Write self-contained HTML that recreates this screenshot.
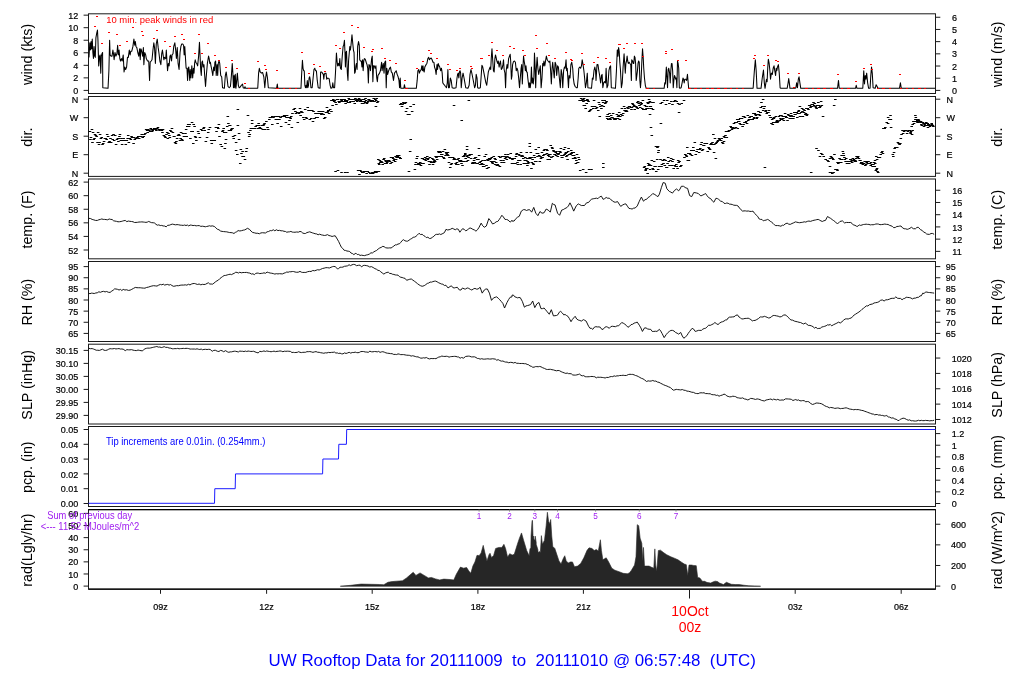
<!DOCTYPE html>
<html><head><meta charset="utf-8"><title>UW Rooftop Data</title>
<style>
html,body{margin:0;padding:0;background:#fff;}
svg{display:block;will-change:transform;}
text{font-family:"Liberation Sans", sans-serif;}
.tl{stroke:#000;stroke-width:0.2px;}
</style></head>
<body>
<svg width="1024" height="700" viewBox="0 0 1024 700">
<rect width="1024" height="700" fill="#fff"/>
<g font-family='"Liberation Sans", sans-serif'>
<rect x="88.5" y="13.8" width="847" height="79.7" fill="none" stroke="#1a1a1a" stroke-width="1"/>
<rect x="88.5" y="96.5" width="847" height="79.9" fill="none" stroke="#1a1a1a" stroke-width="1"/>
<rect x="88.5" y="179" width="847" height="79.8" fill="none" stroke="#1a1a1a" stroke-width="1"/>
<rect x="88.5" y="261.5" width="847" height="80" fill="none" stroke="#1a1a1a" stroke-width="1"/>
<rect x="88.5" y="344.2" width="847" height="79.8" fill="none" stroke="#1a1a1a" stroke-width="1"/>
<rect x="88.5" y="426.5" width="847" height="80" fill="none" stroke="#1a1a1a" stroke-width="1"/>
<rect x="88.5" y="509.6" width="847" height="79.6" fill="none" stroke="#1a1a1a" stroke-width="1"/>
<line x1="88.5" y1="509.6" x2="935.5" y2="509.6" stroke="#000" stroke-width="1.3"/>
<line x1="88.5" y1="589.2" x2="935.5" y2="589.2" stroke="#000" stroke-width="1.2"/>
<line x1="83.6" y1="90.4" x2="88.5" y2="90.4" stroke="#1a1a1a" stroke-width="1"/>
<text x="78.2" y="94" text-anchor="end" font-size="9" class="tl">0</text>
<line x1="83.6" y1="77.86" x2="88.5" y2="77.86" stroke="#1a1a1a" stroke-width="1"/>
<text x="78.2" y="81.46" text-anchor="end" font-size="9" class="tl">2</text>
<line x1="83.6" y1="65.32" x2="88.5" y2="65.32" stroke="#1a1a1a" stroke-width="1"/>
<text x="78.2" y="68.92" text-anchor="end" font-size="9" class="tl">4</text>
<line x1="83.6" y1="52.78" x2="88.5" y2="52.78" stroke="#1a1a1a" stroke-width="1"/>
<text x="78.2" y="56.38" text-anchor="end" font-size="9" class="tl">6</text>
<line x1="83.6" y1="40.24" x2="88.5" y2="40.24" stroke="#1a1a1a" stroke-width="1"/>
<text x="78.2" y="43.84" text-anchor="end" font-size="9" class="tl">8</text>
<line x1="83.6" y1="27.7" x2="88.5" y2="27.7" stroke="#1a1a1a" stroke-width="1"/>
<text x="78.2" y="31.3" text-anchor="end" font-size="9" class="tl">10</text>
<line x1="83.6" y1="15.16" x2="88.5" y2="15.16" stroke="#1a1a1a" stroke-width="1"/>
<text x="78.2" y="18.76" text-anchor="end" font-size="9" class="tl">12</text>
<line x1="935.5" y1="90.4" x2="940.3" y2="90.4" stroke="#1a1a1a" stroke-width="1"/>
<text x="952" y="94" font-size="9" class="tl">0</text>
<line x1="935.5" y1="78.21" x2="940.3" y2="78.21" stroke="#1a1a1a" stroke-width="1"/>
<text x="952" y="81.81" font-size="9" class="tl">1</text>
<line x1="935.5" y1="66.02" x2="940.3" y2="66.02" stroke="#1a1a1a" stroke-width="1"/>
<text x="952" y="69.62" font-size="9" class="tl">2</text>
<line x1="935.5" y1="53.83" x2="940.3" y2="53.83" stroke="#1a1a1a" stroke-width="1"/>
<text x="952" y="57.43" font-size="9" class="tl">3</text>
<line x1="935.5" y1="41.64" x2="940.3" y2="41.64" stroke="#1a1a1a" stroke-width="1"/>
<text x="952" y="45.24" font-size="9" class="tl">4</text>
<line x1="935.5" y1="29.45" x2="940.3" y2="29.45" stroke="#1a1a1a" stroke-width="1"/>
<text x="952" y="33.05" font-size="9" class="tl">5</text>
<line x1="935.5" y1="17.26" x2="940.3" y2="17.26" stroke="#1a1a1a" stroke-width="1"/>
<text x="952" y="20.86" font-size="9" class="tl">6</text>
<line x1="83.6" y1="99.2" x2="88.5" y2="99.2" stroke="#1a1a1a" stroke-width="1"/>
<text x="78.2" y="102.8" text-anchor="end" font-size="9" class="tl">N</text>
<line x1="83.6" y1="117.7" x2="88.5" y2="117.7" stroke="#1a1a1a" stroke-width="1"/>
<text x="78.2" y="121.3" text-anchor="end" font-size="9" class="tl">W</text>
<line x1="83.6" y1="136.2" x2="88.5" y2="136.2" stroke="#1a1a1a" stroke-width="1"/>
<text x="78.2" y="139.8" text-anchor="end" font-size="9" class="tl">S</text>
<line x1="83.6" y1="154.7" x2="88.5" y2="154.7" stroke="#1a1a1a" stroke-width="1"/>
<text x="78.2" y="158.3" text-anchor="end" font-size="9" class="tl">E</text>
<line x1="83.6" y1="173.2" x2="88.5" y2="173.2" stroke="#1a1a1a" stroke-width="1"/>
<text x="78.2" y="176.8" text-anchor="end" font-size="9" class="tl">N</text>
<line x1="935.5" y1="99.2" x2="940.3" y2="99.2" stroke="#1a1a1a" stroke-width="1"/>
<text x="946.5" y="102.8" font-size="9" class="tl">N</text>
<line x1="935.5" y1="117.7" x2="940.3" y2="117.7" stroke="#1a1a1a" stroke-width="1"/>
<text x="946.5" y="121.3" font-size="9" class="tl">W</text>
<line x1="935.5" y1="136.2" x2="940.3" y2="136.2" stroke="#1a1a1a" stroke-width="1"/>
<text x="946.5" y="139.8" font-size="9" class="tl">S</text>
<line x1="935.5" y1="154.7" x2="940.3" y2="154.7" stroke="#1a1a1a" stroke-width="1"/>
<text x="946.5" y="158.3" font-size="9" class="tl">E</text>
<line x1="935.5" y1="173.2" x2="940.3" y2="173.2" stroke="#1a1a1a" stroke-width="1"/>
<text x="946.5" y="176.8" font-size="9" class="tl">N</text>
<line x1="83.6" y1="250" x2="88.5" y2="250" stroke="#1a1a1a" stroke-width="1"/>
<text x="78.2" y="253.6" text-anchor="end" font-size="9" class="tl">52</text>
<line x1="83.6" y1="236.42" x2="88.5" y2="236.42" stroke="#1a1a1a" stroke-width="1"/>
<text x="78.2" y="240.02" text-anchor="end" font-size="9" class="tl">54</text>
<line x1="83.6" y1="222.84" x2="88.5" y2="222.84" stroke="#1a1a1a" stroke-width="1"/>
<text x="78.2" y="226.44" text-anchor="end" font-size="9" class="tl">56</text>
<line x1="83.6" y1="209.26" x2="88.5" y2="209.26" stroke="#1a1a1a" stroke-width="1"/>
<text x="78.2" y="212.86" text-anchor="end" font-size="9" class="tl">58</text>
<line x1="83.6" y1="195.68" x2="88.5" y2="195.68" stroke="#1a1a1a" stroke-width="1"/>
<text x="78.2" y="199.28" text-anchor="end" font-size="9" class="tl">60</text>
<line x1="83.6" y1="182.1" x2="88.5" y2="182.1" stroke="#1a1a1a" stroke-width="1"/>
<text x="78.2" y="185.7" text-anchor="end" font-size="9" class="tl">62</text>
<line x1="935.5" y1="251.36" x2="940.3" y2="251.36" stroke="#1a1a1a" stroke-width="1"/>
<text x="952.3" y="254.96" font-size="9" class="tl">11</text>
<line x1="935.5" y1="239.14" x2="940.3" y2="239.14" stroke="#1a1a1a" stroke-width="1"/>
<text x="952.3" y="242.74" font-size="9" class="tl">12</text>
<line x1="935.5" y1="226.91" x2="940.3" y2="226.91" stroke="#1a1a1a" stroke-width="1"/>
<text x="952.3" y="230.51" font-size="9" class="tl">13</text>
<line x1="935.5" y1="214.69" x2="940.3" y2="214.69" stroke="#1a1a1a" stroke-width="1"/>
<text x="952.3" y="218.29" font-size="9" class="tl">14</text>
<line x1="935.5" y1="202.47" x2="940.3" y2="202.47" stroke="#1a1a1a" stroke-width="1"/>
<text x="952.3" y="206.07" font-size="9" class="tl">15</text>
<line x1="935.5" y1="190.25" x2="940.3" y2="190.25" stroke="#1a1a1a" stroke-width="1"/>
<text x="952.3" y="193.85" font-size="9" class="tl">16</text>
<line x1="83.6" y1="333.41" x2="88.5" y2="333.41" stroke="#1a1a1a" stroke-width="1"/>
<text x="78.2" y="337.01" text-anchor="end" font-size="9" class="tl">65</text>
<line x1="83.6" y1="322.28" x2="88.5" y2="322.28" stroke="#1a1a1a" stroke-width="1"/>
<text x="78.2" y="325.88" text-anchor="end" font-size="9" class="tl">70</text>
<line x1="83.6" y1="311.14" x2="88.5" y2="311.14" stroke="#1a1a1a" stroke-width="1"/>
<text x="78.2" y="314.74" text-anchor="end" font-size="9" class="tl">75</text>
<line x1="83.6" y1="300" x2="88.5" y2="300" stroke="#1a1a1a" stroke-width="1"/>
<text x="78.2" y="303.61" text-anchor="end" font-size="9" class="tl">80</text>
<line x1="83.6" y1="288.87" x2="88.5" y2="288.87" stroke="#1a1a1a" stroke-width="1"/>
<text x="78.2" y="292.47" text-anchor="end" font-size="9" class="tl">85</text>
<line x1="83.6" y1="277.74" x2="88.5" y2="277.74" stroke="#1a1a1a" stroke-width="1"/>
<text x="78.2" y="281.34" text-anchor="end" font-size="9" class="tl">90</text>
<line x1="83.6" y1="266.6" x2="88.5" y2="266.6" stroke="#1a1a1a" stroke-width="1"/>
<text x="78.2" y="270.2" text-anchor="end" font-size="9" class="tl">95</text>
<line x1="935.5" y1="333.41" x2="940.3" y2="333.41" stroke="#1a1a1a" stroke-width="1"/>
<text x="945.8" y="337.01" font-size="9" class="tl">65</text>
<line x1="935.5" y1="322.28" x2="940.3" y2="322.28" stroke="#1a1a1a" stroke-width="1"/>
<text x="945.8" y="325.88" font-size="9" class="tl">70</text>
<line x1="935.5" y1="311.14" x2="940.3" y2="311.14" stroke="#1a1a1a" stroke-width="1"/>
<text x="945.8" y="314.74" font-size="9" class="tl">75</text>
<line x1="935.5" y1="300" x2="940.3" y2="300" stroke="#1a1a1a" stroke-width="1"/>
<text x="945.8" y="303.61" font-size="9" class="tl">80</text>
<line x1="935.5" y1="288.87" x2="940.3" y2="288.87" stroke="#1a1a1a" stroke-width="1"/>
<text x="945.8" y="292.47" font-size="9" class="tl">85</text>
<line x1="935.5" y1="277.74" x2="940.3" y2="277.74" stroke="#1a1a1a" stroke-width="1"/>
<text x="945.8" y="281.34" font-size="9" class="tl">90</text>
<line x1="935.5" y1="266.6" x2="940.3" y2="266.6" stroke="#1a1a1a" stroke-width="1"/>
<text x="945.8" y="270.2" font-size="9" class="tl">95</text>
<line x1="83.6" y1="415.4" x2="88.5" y2="415.4" stroke="#1a1a1a" stroke-width="1"/>
<text x="78.2" y="419" text-anchor="end" font-size="9" class="tl">29.90</text>
<line x1="83.6" y1="402.4" x2="88.5" y2="402.4" stroke="#1a1a1a" stroke-width="1"/>
<text x="78.2" y="406" text-anchor="end" font-size="9" class="tl">29.95</text>
<line x1="83.6" y1="389.4" x2="88.5" y2="389.4" stroke="#1a1a1a" stroke-width="1"/>
<text x="78.2" y="393" text-anchor="end" font-size="9" class="tl">30.00</text>
<line x1="83.6" y1="376.4" x2="88.5" y2="376.4" stroke="#1a1a1a" stroke-width="1"/>
<text x="78.2" y="380" text-anchor="end" font-size="9" class="tl">30.05</text>
<line x1="83.6" y1="363.4" x2="88.5" y2="363.4" stroke="#1a1a1a" stroke-width="1"/>
<text x="78.2" y="367" text-anchor="end" font-size="9" class="tl">30.10</text>
<line x1="83.6" y1="350.4" x2="88.5" y2="350.4" stroke="#1a1a1a" stroke-width="1"/>
<text x="78.2" y="354" text-anchor="end" font-size="9" class="tl">30.15</text>
<line x1="935.5" y1="419.47" x2="940.3" y2="419.47" stroke="#1a1a1a" stroke-width="1"/>
<text x="951.8" y="423.07" font-size="9" class="tl">1012</text>
<line x1="935.5" y1="404.12" x2="940.3" y2="404.12" stroke="#1a1a1a" stroke-width="1"/>
<text x="951.8" y="407.72" font-size="9" class="tl">1014</text>
<line x1="935.5" y1="388.76" x2="940.3" y2="388.76" stroke="#1a1a1a" stroke-width="1"/>
<text x="951.8" y="392.36" font-size="9" class="tl">1016</text>
<line x1="935.5" y1="373.41" x2="940.3" y2="373.41" stroke="#1a1a1a" stroke-width="1"/>
<text x="951.8" y="377.01" font-size="9" class="tl">1018</text>
<line x1="935.5" y1="358.05" x2="940.3" y2="358.05" stroke="#1a1a1a" stroke-width="1"/>
<text x="951.8" y="361.65" font-size="9" class="tl">1020</text>
<line x1="83.6" y1="503.5" x2="88.5" y2="503.5" stroke="#1a1a1a" stroke-width="1"/>
<text x="78.2" y="507.1" text-anchor="end" font-size="9" class="tl">0.00</text>
<line x1="83.6" y1="488.7" x2="88.5" y2="488.7" stroke="#1a1a1a" stroke-width="1"/>
<text x="78.2" y="492.3" text-anchor="end" font-size="9" class="tl">0.01</text>
<line x1="83.6" y1="473.9" x2="88.5" y2="473.9" stroke="#1a1a1a" stroke-width="1"/>
<text x="78.2" y="477.5" text-anchor="end" font-size="9" class="tl">0.02</text>
<line x1="83.6" y1="459.1" x2="88.5" y2="459.1" stroke="#1a1a1a" stroke-width="1"/>
<text x="78.2" y="462.7" text-anchor="end" font-size="9" class="tl">0.03</text>
<line x1="83.6" y1="444.3" x2="88.5" y2="444.3" stroke="#1a1a1a" stroke-width="1"/>
<text x="78.2" y="447.9" text-anchor="end" font-size="9" class="tl">0.04</text>
<line x1="83.6" y1="429.5" x2="88.5" y2="429.5" stroke="#1a1a1a" stroke-width="1"/>
<text x="78.2" y="433.1" text-anchor="end" font-size="9" class="tl">0.05</text>
<line x1="935.5" y1="503.5" x2="940.3" y2="503.5" stroke="#1a1a1a" stroke-width="1"/>
<text x="951.8" y="507.1" font-size="9" class="tl">0</text>
<line x1="935.5" y1="491.85" x2="940.3" y2="491.85" stroke="#1a1a1a" stroke-width="1"/>
<text x="951.8" y="495.45" font-size="9" class="tl">0.2</text>
<line x1="935.5" y1="480.19" x2="940.3" y2="480.19" stroke="#1a1a1a" stroke-width="1"/>
<text x="951.8" y="483.79" font-size="9" class="tl">0.4</text>
<line x1="935.5" y1="468.54" x2="940.3" y2="468.54" stroke="#1a1a1a" stroke-width="1"/>
<text x="951.8" y="472.14" font-size="9" class="tl">0.6</text>
<line x1="935.5" y1="456.89" x2="940.3" y2="456.89" stroke="#1a1a1a" stroke-width="1"/>
<text x="951.8" y="460.49" font-size="9" class="tl">0.8</text>
<line x1="935.5" y1="445.23" x2="940.3" y2="445.23" stroke="#1a1a1a" stroke-width="1"/>
<text x="951.8" y="448.83" font-size="9" class="tl">1</text>
<line x1="935.5" y1="433.58" x2="940.3" y2="433.58" stroke="#1a1a1a" stroke-width="1"/>
<text x="951.8" y="437.18" font-size="9" class="tl">1.2</text>
<line x1="83.6" y1="586.1" x2="88.5" y2="586.1" stroke="#1a1a1a" stroke-width="1"/>
<text x="78.2" y="589.7" text-anchor="end" font-size="9" class="tl">0</text>
<line x1="83.6" y1="573.98" x2="88.5" y2="573.98" stroke="#1a1a1a" stroke-width="1"/>
<text x="78.2" y="577.58" text-anchor="end" font-size="9" class="tl">10</text>
<line x1="83.6" y1="561.87" x2="88.5" y2="561.87" stroke="#1a1a1a" stroke-width="1"/>
<text x="78.2" y="565.47" text-anchor="end" font-size="9" class="tl">20</text>
<line x1="83.6" y1="549.75" x2="88.5" y2="549.75" stroke="#1a1a1a" stroke-width="1"/>
<text x="78.2" y="553.35" text-anchor="end" font-size="9" class="tl">30</text>
<line x1="83.6" y1="537.63" x2="88.5" y2="537.63" stroke="#1a1a1a" stroke-width="1"/>
<text x="78.2" y="541.23" text-anchor="end" font-size="9" class="tl">40</text>
<line x1="83.6" y1="525.51" x2="88.5" y2="525.51" stroke="#1a1a1a" stroke-width="1"/>
<text x="78.2" y="529.12" text-anchor="end" font-size="9" class="tl">50</text>
<line x1="83.6" y1="513.4" x2="88.5" y2="513.4" stroke="#1a1a1a" stroke-width="1"/>
<text x="78.2" y="517" text-anchor="end" font-size="9" class="tl">60</text>
<line x1="935.5" y1="586.1" x2="940.3" y2="586.1" stroke="#1a1a1a" stroke-width="1"/>
<text x="951.0" y="589.7" font-size="9" class="tl">0</text>
<line x1="935.5" y1="565.48" x2="940.3" y2="565.48" stroke="#1a1a1a" stroke-width="1"/>
<text x="951.0" y="569.08" font-size="9" class="tl">200</text>
<line x1="935.5" y1="544.86" x2="940.3" y2="544.86" stroke="#1a1a1a" stroke-width="1"/>
<text x="951.0" y="548.46" font-size="9" class="tl">400</text>
<line x1="935.5" y1="524.24" x2="940.3" y2="524.24" stroke="#1a1a1a" stroke-width="1"/>
<text x="951.0" y="527.84" font-size="9" class="tl">600</text>
<text transform="translate(32.4,54.35) rotate(-90)" text-anchor="middle" font-size="14.3">wind (kts)</text>
<text transform="translate(1002.1,54.35) rotate(-90)" text-anchor="middle" font-size="14.3">wind (m/s)</text>
<text transform="translate(32.4,137.15) rotate(-90)" text-anchor="middle" font-size="14.3">dir.</text>
<text transform="translate(1002.1,137.15) rotate(-90)" text-anchor="middle" font-size="14.3">dir.</text>
<text transform="translate(32.4,219.6) rotate(-90)" text-anchor="middle" font-size="14.3">temp. (F)</text>
<text transform="translate(1002.1,219.6) rotate(-90)" text-anchor="middle" font-size="14.3">temp. (C)</text>
<text transform="translate(32.4,302.2) rotate(-90)" text-anchor="middle" font-size="14.3">RH (%)</text>
<text transform="translate(1002.1,302.2) rotate(-90)" text-anchor="middle" font-size="14.3">RH (%)</text>
<text transform="translate(32.4,384.8) rotate(-90)" text-anchor="middle" font-size="14.3">SLP (inHg)</text>
<text transform="translate(1002.1,384.8) rotate(-90)" text-anchor="middle" font-size="14.3">SLP (hPa)</text>
<text transform="translate(32.4,467.2) rotate(-90)" text-anchor="middle" font-size="14.3">pcp. (in)</text>
<text transform="translate(1002.1,467.2) rotate(-90)" text-anchor="middle" font-size="14.3">pcp. (mm)</text>
<text transform="translate(32.4,550.1) rotate(-90)" text-anchor="middle" font-size="14.3">rad(Lgly/hr)</text>
<text transform="translate(1002.1,550.1) rotate(-90)" text-anchor="middle" font-size="14.3">rad (W/m^2)</text>
<line x1="160.5" y1="589.2" x2="160.5" y2="593.8" stroke="#1a1a1a" stroke-width="1"/>
<text x="160.5" y="610.2" text-anchor="middle" font-size="9" class="tl">09z</text>
<line x1="266.6" y1="589.2" x2="266.6" y2="593.8" stroke="#1a1a1a" stroke-width="1"/>
<text x="266.6" y="610.2" text-anchor="middle" font-size="9" class="tl">12z</text>
<line x1="372.2" y1="589.2" x2="372.2" y2="593.8" stroke="#1a1a1a" stroke-width="1"/>
<text x="372.2" y="610.2" text-anchor="middle" font-size="9" class="tl">15z</text>
<line x1="477.9" y1="589.2" x2="477.9" y2="593.8" stroke="#1a1a1a" stroke-width="1"/>
<text x="477.9" y="610.2" text-anchor="middle" font-size="9" class="tl">18z</text>
<line x1="583.4" y1="589.2" x2="583.4" y2="593.8" stroke="#1a1a1a" stroke-width="1"/>
<text x="583.4" y="610.2" text-anchor="middle" font-size="9" class="tl">21z</text>
<line x1="795.2" y1="589.2" x2="795.2" y2="593.8" stroke="#1a1a1a" stroke-width="1"/>
<text x="795.2" y="610.2" text-anchor="middle" font-size="9" class="tl">03z</text>
<line x1="901.2" y1="589.2" x2="901.2" y2="593.8" stroke="#1a1a1a" stroke-width="1"/>
<text x="901.2" y="610.2" text-anchor="middle" font-size="9" class="tl">06z</text>
<line x1="689.5" y1="589.2" x2="689.5" y2="598.5" stroke="#1a1a1a" stroke-width="1"/>
<text x="690" y="616.3" text-anchor="middle" font-size="14" fill="#ff0000">10Oct</text>
<text x="690" y="632.3" text-anchor="middle" font-size="14" fill="#ff0000">00z</text>
<text x="268.6" y="665.8" font-size="16.9" fill="#0000ff" xml:space="preserve">UW Rooftop Data for 20111009  to  20111010 @ 06:57:48  (UTC)</text>
<polyline points="88.97,57.36 89.82,42.79 90.43,50.07 91.04,41.57 91.64,48.86 92.25,39.14 92.86,52.5 93.46,58.57 94.07,46.43 94.68,56.14 95.29,57.36 95.89,37.93 96.74,33.07 97.47,30.04 97.96,40.36 98.69,65.86 99.54,56.14 100.14,54.93 100.75,73.15 101.36,56.14 101.96,53.72 102.57,52.5 102.81,87.72 108.04,88.32 108.89,70.72 109.62,40.36 110.1,54.93 111.07,56.14 112.04,56.14 112.89,50.07 113.5,53.72 114.11,59.79 114.96,52.5 115.93,56.14 116.9,53.72 117.63,45.22 118.36,54.93 119.09,50.07 119.82,58.57 120.54,61 121.39,58.57 122.24,61 123.22,54.93 124.07,71.93 124.79,67.07 125.64,69.5 126.62,67.07 127.47,57.36 128.32,57.36 129.29,50.07 130.14,54.93 130.74,51.29 131.72,51.29 132.93,46.43 133.9,39.14 134.75,45.22 135.36,41.57 135.97,46.43 136.82,47.64 137.79,52.5 138.76,56.14 139.61,48.86 140.22,59.79 140.82,48.86 141.43,50.07 142.64,56.14 143.37,47.64 143.86,64.64 144.71,52.5 145.68,54.93 146.29,58.57 147.5,61 148.72,61 149.57,80.43 150.17,62.22 151.15,61 152,59.79 152.97,50.07 153.82,42.79 154.55,47.64 155.4,63.43 156.25,44 157.22,39.14 158.19,47.64 159.04,53.72 159.89,61 160.86,64.64 161.71,53.72 162.44,50.07 163.29,56.14 163.9,59.79 164.5,57.36 165.72,58.57 166.32,50.07 166.93,61 167.54,70.72 168.39,63.43 169.12,65.86 169.97,56.14 170.57,54.93 171.55,61 172.03,54.93 173,53.72 173.73,46.43 174.82,42.79 175.67,50.07 176.4,58.57 177.25,47.64 178.1,63.43 179.07,69.5 180.05,52.5 180.9,46.43 181.75,44 182.72,44 183.57,45.22 184.17,54.93 184.78,46.43 185.51,58.57 186.12,68.29 186.97,68.29 187.57,80.43 188.18,68.29 188.79,67.07 189.76,80.43 190.25,69.5 190.98,78 191.83,65.86 192.68,78 193.4,68.29 194,73.15 194.61,63.43 195.21,59.79 195.82,62.22 196.67,63.43 197.64,65.86 198.61,56.14 199.46,42.18 200.07,56.14 200.68,69.5 201.29,75.57 201.89,62.22 202.5,61 203.11,67.07 203.96,64.64 204.69,75.57 205.54,86.5 206.14,78 207.36,63.43 207.96,59.79 208.57,56.14 209.18,58.57 209.79,63.43 210.39,62.22 211,65.86 211.97,70.72 212.82,75.57 213.67,67.07 214.4,70.72 214.89,62.22 215.62,61 216.22,75.57 217.07,64.64 217.68,75.57 218.29,63.43 219.02,61 219.74,63.43 220.72,75.57 221.69,76.79 222.54,87.72 224.36,88.32 225.33,75.57 226.18,71.93 227.03,78 228,86.5 229.22,87.72 230.43,86.5 231.4,75.57 232.25,63.43 232.86,73.15 233.47,87.72 234.07,75.57 234.68,87.72 235.29,74.36 235.89,88.32 236.5,82.86 237.35,73.15 238.32,85.29 239.17,87.72 240.14,87.11 241.36,85.29 242.57,84.07 243.18,87.72 244.39,88.32 245,86.75 245.61,88.32 257.75,88.32 258.6,73.15 259.33,68.29 260.18,71.93 261.4,73.15 262.61,72.54 263.82,76.79 264.8,87.72 265.65,78 266.5,71.93 267.47,78 268.32,87.72 276.57,88.32 277.3,84.07 277.79,88.32 300.01,88.32 300.97,88.32 301.82,70.72 302.43,60.39 303.04,68.29 303.64,70.72 304.25,70.72 304.86,85.29 305.46,87.72 306.07,85.29 306.68,87.72 307.29,80.43 307.89,87.72 308.5,85.29 309.11,78 309.71,76.79 310.32,80.43 310.93,87.72 312.14,87.72 313.11,78 313.96,69.5 314.81,68.29 315.54,70.72 316.39,70.72 317.24,80.43 318.21,87.72 320.04,88.32 320.64,71.93 321.62,71.93 322.47,73.15 323.32,74.36 323.8,79.22 324.29,74.36 325.14,73.15 325.99,73.15 326.72,79.22 327.69,78 329.14,78.61 330.12,85.29 330.97,88.32 332.18,87.72 332.79,82.86 333.52,87.72 334.61,87.72 335.46,73.15 336.43,53.11 337.04,61 337.64,65.86 338.37,63.43 339.1,65.86 339.83,58.57 340.44,68.29 341.29,69.5 342.26,56.14 343.11,46.43 343.72,45.22 344.44,40.36 344.93,51.29 345.42,67.07 345.9,52.5 346.51,51.29 347.36,73.15 347.97,80.43 348.57,61 349.18,53.72 349.79,46.43 350.39,50.07 351,45.22 351.97,34.89 352.82,44 353.43,50.07 354.04,52.5 354.64,73.15 355.25,71.93 355.86,65.86 356.47,63.43 357.07,69.5 357.68,46.43 358.53,41.57 359.26,45.22 359.74,59.79 360.47,61 361.32,61 361.93,67.07 362.54,59.79 363.15,70.72 363.75,61 364.36,58.57 365.21,59.18 366.18,62.22 367.03,64.64 367.76,68.29 368.37,82.86 368.97,64.64 369.82,65.86 370.43,70.72 371.04,64.64 371.65,58.57 372.25,56.14 372.86,81.65 373.47,65.86 374.32,65.86 375.05,68.29 375.9,65.86 376.75,78 377.35,81.65 377.96,75.57 378.69,74.36 379.54,73.15 380.39,70.72 381.12,65.86 381.6,62.22 382.09,70.72 382.57,67.07 383.3,63.43 384.03,73.15 384.76,62.22 385.61,61 386.22,87.72 386.82,68.29 387.67,74.36 388.65,70.72 389.62,68.29 390.47,67.07 391.32,71.93 392.29,73.15 393.5,80.43 394.47,73.15 395.32,71.93 396.17,70.72 397.15,74.36 398.12,76.79 398.97,80.43 399.57,87.72 400.18,78 400.79,88.32 403.83,88.32 404.43,84.68 405.16,88.32 405.65,88.32 406,88.32 416.32,88.32 417.17,80.43 417.9,70.72 418.75,69.5 419.36,73.15 420.33,70.72 421.18,69.5 421.79,65.86 422.39,70.72 423,65.86 423.61,70.72 424.21,71.93 424.82,67.07 426.04,64.64 426.89,63.43 427.86,58.57 428.71,57.36 429.44,59.79 430.29,58.57 431.14,57.97 432.11,59.79 432.96,62.22 433.93,62.22 434.54,67.07 435.39,69.5 436.12,74.36 436.97,64.64 437.57,69.5 438.18,63.43 439.03,65.86 439.76,67.07 440.61,70.72 441.46,68.29 442.19,73.15 442.79,82.86 443.64,84.07 444.62,85.29 445.47,86.5 446.44,87.72 447.29,82.86 447.89,69.5 448.5,87.72 449.35,87.72 450.32,78 451.17,80.43 452.14,87.72 453.97,88.32 456.03,87.72 457,78 457.61,74.36 458.22,73.15 458.82,78 459.43,71.93 460.04,70.72 460.64,73.15 461.25,87.72 462.1,78 463.07,73.15 464.04,78 464.89,82.86 465.74,87.72 467.93,88.32 469.15,85.29 470,74.36 470.97,69.5 471.82,73.15 472.79,78 473.76,82.86 474.61,87.72 475.46,85.29 476.19,74.36 477.04,78 477.65,87.72 478.86,88.32 480.32,87.72 481.05,78 481.9,65.25 482.75,67.07 483.72,71.93 484.69,76.79 485.9,82.86 486.75,85.29 487.6,78 488.33,71.93 489.18,69.5 490.03,67.07 490.76,69.5 491.25,58.57 491.97,48.86 492.7,59.79 493.43,70.72 494.16,71.93 494.89,58.57 495.5,54.93 496.1,57.36 496.83,61 497.68,63.43 498.29,61 499.14,67.07 499.75,63.43 500.47,61 501.32,69.5 502.17,68.29 502.9,64.64 503.51,59.79 504.12,69.5 504.97,73.15 505.57,87.72 506.18,70.72 507.03,64.64 507.76,68.29 508.61,58.57 509.46,56.14 510.19,54.32 510.68,61 511.4,79.22 512,75.57 512.01,73.15 512.61,64.64 513.46,61.61 514.43,61 515.4,62.22 516.25,70.72 517.1,68.29 517.83,70.72 518.68,78 519.53,87.72 520.26,78 521.11,68.29 521.71,64.64 522.32,84.07 522.93,68.29 523.54,56.14 524.14,61 524.75,64.64 525.36,70.72 525.96,65.86 526.57,71.93 527.18,71.93 527.79,78 528.39,82.86 529,87.72 529.61,82.86 530.21,87.72 530.82,82.86 531.43,67.07 532.04,82.86 532.64,78 533.25,84.07 533.86,78 534.47,53.11 535.07,65.86 535.68,87.72 536.29,69.5 537.14,57.36 537.87,68.29 538.72,74.36 539.57,69.5 540.29,65.86 541.14,87.72 541.99,78 542.72,63.43 543.33,65.86 543.94,61 544.79,65.86 545.52,61 546.37,56.14 547.22,59.79 548.07,61 549.04,62.22 549.89,61 550.62,70.72 551.34,84.07 552.07,68.29 552.68,62.22 553.53,70.72 554.26,78 555.11,62.22 555.96,64.64 556.69,75.57 557.54,65.86 558.39,67.07 559.36,78 560.33,87.72 561.18,69.5 562.03,74.36 562.76,87.72 563.61,70.72 564.46,67.07 565.19,68.29 566.04,59.79 566.64,70.72 567.25,68.29 567.86,78 568.47,87.72 569.07,75.57 570.04,78 570.89,64.64 571.74,62.22 572.72,68.29 573.32,78 574.17,84.07 575.15,86.5 576.36,87.72 577.33,87.72 578.18,78 578.79,68.29 579.76,67.07 580.61,68.29 581.46,65.86 582.19,59.79 583.04,64.64 583.89,70.72 584.62,78 585.47,87.72 586.32,82.86 587.29,73.15 587.9,87.72 591.54,88.32 592.39,78 593.12,79.22 593.97,70.72 594.82,67.07 595.55,70.72 596.03,80.43 597,64.64 597.97,64.64 598.82,70.72 599.67,75.57 600.65,82.86 601.5,75.57 602.1,74.36 602.83,87.72 603.68,82.86 604.53,81.65 605.5,82.86 606.11,68.29 606.96,87.72 607.93,85.29 608.9,70.72 609.75,67.07 610.6,65.86 611.33,87.72 615.46,88.32 616.43,70.72 617.28,50.07 618,50.07 618.01,56.14 618.61,47.64 619.21,51.29 619.82,62.22 620.43,69.5 621.4,87.72 622.25,82.86 623.1,67.07 624.07,53.72 624.68,63.43 625.29,73.15 625.89,63.43 626.5,61 627.11,56.14 627.71,61 628.32,63.43 629.17,62.22 629.9,63.43 630.75,64.64 631.36,80.43 631.72,59.79 632.57,61 633.18,63.43 633.79,63.43 634.39,56.14 635,57.36 635.61,63.43 636.21,80.43 636.82,75.57 637.43,70.72 638.04,63.43 638.64,61 639.25,62.22 639.86,80.43 640.47,87.72 641.07,80.43 641.92,59.79 642.53,48.86 643.26,58.57 643.74,68.29 644.47,78 645.32,85.29 646.17,88.32 664.14,88.32 664.75,82.86 665.36,84.07 666.33,67.07 666.94,78 667.54,87.72 668.15,69.5 668.76,68.29 669.61,73.15 670.22,82.86 670.82,70.72 671.43,63.43 672.04,63.43 672.64,70.72 673.25,87.72 673.86,80.43 674.47,75.57 675.07,76.79 675.68,79.22 676.29,78 676.89,87.72 677.5,61 678.11,63.43 678.72,68.29 679.32,87.72 679.93,88.32 681.15,87.72 682.12,82.86 682.97,78 683.57,79.22 684.18,82.86 684.79,79.22 685.76,79.22 686.61,80.43 687.46,74.36 688.19,82.86 688.67,88.32 724,88.32 724.01,88.32 753.14,88.32 754.36,70.72 755.33,59.79 756.18,70.72 757.03,88.32 761.04,88.32 762.25,78 763.47,70.11 764.32,82.86 765.04,88.32 765.89,82.86 766.5,79.22 767.11,81.65 767.72,68.29 768.32,59.18 769.17,63.43 769.9,70.72 770.51,79.22 771.36,73.15 772.33,74.36 773.18,68.29 774.03,65.86 774.76,70.72 775.61,75.57 776.22,68.29 776.82,70.72 777.43,67.07 778.4,64.64 779.25,73.15 780.1,87.72 780.83,88.32 787.15,88.32 788.12,82.86 788.72,78.61 789.33,82.86 789.94,88.32 795.04,88.32 795.89,87.72 796.62,82.86 797.47,87.72 798.32,79.22 799.05,76.79 799.9,82.86 800.75,88.32 830,88.32 830.01,88.32 837.53,88.32 838.5,80.43 839.23,88.32 855.5,88.32 856.23,85.29 856.96,88.32 862.79,88.32 863.76,70.72 864.49,84.07 865.22,75.57 865.94,79.22 866.67,73.15 867.64,82.86 868.62,88.32 870.07,88.32 870.8,75.57 871.53,67.07 872.26,73.15 873.11,87.72 875.17,88.32 876.14,84.68 877.12,86.5 877.97,88.32 899.46,88.32 900.43,82.86 901.28,88.32 935,88.32" fill="none" stroke="#000" stroke-width="1.05" stroke-linejoin="round" />
<rect x="95.81" y="16" width="2.6" height="1" fill="#ff0000" shape-rendering="crispEdges"/>
<rect x="93.62" y="26" width="2.6" height="1" fill="#ff0000" shape-rendering="crispEdges"/>
<rect x="100.66" y="43" width="2.6" height="1" fill="#ff0000" shape-rendering="crispEdges"/>
<rect x="107.71" y="32" width="2.6" height="1" fill="#ff0000" shape-rendering="crispEdges"/>
<rect x="115.6" y="34" width="2.6" height="1" fill="#ff0000" shape-rendering="crispEdges"/>
<rect x="118.52" y="45" width="2.6" height="1" fill="#ff0000" shape-rendering="crispEdges"/>
<rect x="125.56" y="41" width="2.6" height="1" fill="#ff0000" shape-rendering="crispEdges"/>
<rect x="131.63" y="27" width="2.6" height="1" fill="#ff0000" shape-rendering="crispEdges"/>
<rect x="140.74" y="31" width="2.6" height="1" fill="#ff0000" shape-rendering="crispEdges"/>
<rect x="141.71" y="35" width="2.6" height="1" fill="#ff0000" shape-rendering="crispEdges"/>
<rect x="152.88" y="38" width="2.6" height="1" fill="#ff0000" shape-rendering="crispEdges"/>
<rect x="155.67" y="30" width="2.6" height="1" fill="#ff0000" shape-rendering="crispEdges"/>
<rect x="163.57" y="41" width="2.6" height="1" fill="#ff0000" shape-rendering="crispEdges"/>
<rect x="168.79" y="46" width="2.6" height="1" fill="#ff0000" shape-rendering="crispEdges"/>
<rect x="173.65" y="36" width="2.6" height="1" fill="#ff0000" shape-rendering="crispEdges"/>
<rect x="180.81" y="34" width="2.6" height="1" fill="#ff0000" shape-rendering="crispEdges"/>
<rect x="182.75" y="39" width="2.6" height="1" fill="#ff0000" shape-rendering="crispEdges"/>
<rect x="197.8" y="34" width="2.6" height="1" fill="#ff0000" shape-rendering="crispEdges"/>
<rect x="193.67" y="53" width="2.6" height="1" fill="#ff0000" shape-rendering="crispEdges"/>
<rect x="200.71" y="53" width="2.6" height="1" fill="#ff0000" shape-rendering="crispEdges"/>
<rect x="206.79" y="43" width="2.6" height="1" fill="#ff0000" shape-rendering="crispEdges"/>
<rect x="213.59" y="55" width="2.6" height="1" fill="#ff0000" shape-rendering="crispEdges"/>
<rect x="217.72" y="60" width="2.6" height="1" fill="#ff0000" shape-rendering="crispEdges"/>
<rect x="224.64" y="67" width="2.6" height="1" fill="#ff0000" shape-rendering="crispEdges"/>
<rect x="230.71" y="60" width="2.6" height="1" fill="#ff0000" shape-rendering="crispEdges"/>
<rect x="235.69" y="68" width="2.6" height="1" fill="#ff0000" shape-rendering="crispEdges"/>
<rect x="243.7" y="83" width="2.6" height="1" fill="#ff0000" shape-rendering="crispEdges"/>
<rect x="247.59" y="88" width="2.6" height="1" fill="#ff0000" shape-rendering="crispEdges"/>
<rect x="256.7" y="61" width="2.6" height="1" fill="#ff0000" shape-rendering="crispEdges"/>
<rect x="263.74" y="65" width="2.6" height="1" fill="#ff0000" shape-rendering="crispEdges"/>
<rect x="264.59" y="69" width="2.6" height="1" fill="#ff0000" shape-rendering="crispEdges"/>
<rect x="275.76" y="70" width="2.6" height="1" fill="#ff0000" shape-rendering="crispEdges"/>
<rect x="276.49" y="88" width="2.6" height="1" fill="#ff0000" shape-rendering="crispEdges"/>
<rect x="282.56" y="88" width="2.6" height="1" fill="#ff0000" shape-rendering="crispEdges"/>
<rect x="288.63" y="88" width="2.6" height="1" fill="#ff0000" shape-rendering="crispEdges"/>
<rect x="294.7" y="88" width="2.6" height="1" fill="#ff0000" shape-rendering="crispEdges"/>
<rect x="300.76" y="52" width="2.6" height="1" fill="#ff0000" shape-rendering="crispEdges"/>
<rect x="307.69" y="73" width="2.6" height="1" fill="#ff0000" shape-rendering="crispEdges"/>
<rect x="312.79" y="64" width="2.6" height="1" fill="#ff0000" shape-rendering="crispEdges"/>
<rect x="318.61" y="66" width="2.6" height="1" fill="#ff0000" shape-rendering="crispEdges"/>
<rect x="323.72" y="71" width="2.6" height="1" fill="#ff0000" shape-rendering="crispEdges"/>
<rect x="334.64" y="45" width="2.6" height="1" fill="#ff0000" shape-rendering="crispEdges"/>
<rect x="338.77" y="48" width="2.6" height="1" fill="#ff0000" shape-rendering="crispEdges"/>
<rect x="342.66" y="32" width="2.6" height="1" fill="#ff0000" shape-rendering="crispEdges"/>
<rect x="350.67" y="25" width="2.6" height="1" fill="#ff0000" shape-rendering="crispEdges"/>
<rect x="356.74" y="27" width="2.6" height="1" fill="#ff0000" shape-rendering="crispEdges"/>
<rect x="362.7" y="47" width="2.6" height="1" fill="#ff0000" shape-rendering="crispEdges"/>
<rect x="370.59" y="51" width="2.6" height="1" fill="#ff0000" shape-rendering="crispEdges"/>
<rect x="371.68" y="49" width="2.6" height="1" fill="#ff0000" shape-rendering="crispEdges"/>
<rect x="380.79" y="48" width="2.6" height="1" fill="#ff0000" shape-rendering="crispEdges"/>
<rect x="383.7" y="58" width="2.6" height="1" fill="#ff0000" shape-rendering="crispEdges"/>
<rect x="388.68" y="60" width="2.6" height="1" fill="#ff0000" shape-rendering="crispEdges"/>
<rect x="394.63" y="63" width="2.6" height="1" fill="#ff0000" shape-rendering="crispEdges"/>
<rect x="403.62" y="80" width="2.6" height="1" fill="#ff0000" shape-rendering="crispEdges"/>
<rect x="405.19" y="88" width="2.6" height="1" fill="#ff0000" shape-rendering="crispEdges"/>
<rect x="415.63" y="68" width="2.6" height="1" fill="#ff0000" shape-rendering="crispEdges"/>
<rect x="421.7" y="61" width="2.6" height="1" fill="#ff0000" shape-rendering="crispEdges"/>
<rect x="427.65" y="50" width="2.6" height="1" fill="#ff0000" shape-rendering="crispEdges"/>
<rect x="429.72" y="53" width="2.6" height="1" fill="#ff0000" shape-rendering="crispEdges"/>
<rect x="435.67" y="58" width="2.6" height="1" fill="#ff0000" shape-rendering="crispEdges"/>
<rect x="446.59" y="64" width="2.6" height="1" fill="#ff0000" shape-rendering="crispEdges"/>
<rect x="448.66" y="69" width="2.6" height="1" fill="#ff0000" shape-rendering="crispEdges"/>
<rect x="455.7" y="70" width="2.6" height="1" fill="#ff0000" shape-rendering="crispEdges"/>
<rect x="458.62" y="68" width="2.6" height="1" fill="#ff0000" shape-rendering="crispEdges"/>
<rect x="469.67" y="66" width="2.6" height="1" fill="#ff0000" shape-rendering="crispEdges"/>
<rect x="470.64" y="68" width="2.6" height="1" fill="#ff0000" shape-rendering="crispEdges"/>
<rect x="480.47" y="58" width="2.6" height="1" fill="#ff0000" shape-rendering="crispEdges"/>
<rect x="487.76" y="55" width="2.6" height="1" fill="#ff0000" shape-rendering="crispEdges"/>
<rect x="490.67" y="42" width="2.6" height="1" fill="#ff0000" shape-rendering="crispEdges"/>
<rect x="495.53" y="50" width="2.6" height="1" fill="#ff0000" shape-rendering="crispEdges"/>
<rect x="501.6" y="55" width="2.6" height="1" fill="#ff0000" shape-rendering="crispEdges"/>
<rect x="508.65" y="46" width="2.6" height="1" fill="#ff0000" shape-rendering="crispEdges"/>
<rect x="512.64" y="48" width="2.6" height="1" fill="#ff0000" shape-rendering="crispEdges"/>
<rect x="521.63" y="50" width="2.6" height="1" fill="#ff0000" shape-rendering="crispEdges"/>
<rect x="523.57" y="55" width="2.6" height="1" fill="#ff0000" shape-rendering="crispEdges"/>
<rect x="534.62" y="35" width="2.6" height="1" fill="#ff0000" shape-rendering="crispEdges"/>
<rect x="535.59" y="48" width="2.6" height="1" fill="#ff0000" shape-rendering="crispEdges"/>
<rect x="545.67" y="43" width="2.6" height="1" fill="#ff0000" shape-rendering="crispEdges"/>
<rect x="547.74" y="55" width="2.6" height="1" fill="#ff0000" shape-rendering="crispEdges"/>
<rect x="553.69" y="58" width="2.6" height="1" fill="#ff0000" shape-rendering="crispEdges"/>
<rect x="564.74" y="52" width="2.6" height="1" fill="#ff0000" shape-rendering="crispEdges"/>
<rect x="569.59" y="59" width="2.6" height="1" fill="#ff0000" shape-rendering="crispEdges"/>
<rect x="570.69" y="60" width="2.6" height="1" fill="#ff0000" shape-rendering="crispEdges"/>
<rect x="580.65" y="53" width="2.6" height="1" fill="#ff0000" shape-rendering="crispEdges"/>
<rect x="582.83" y="64" width="2.6" height="1" fill="#ff0000" shape-rendering="crispEdges"/>
<rect x="592.67" y="62" width="2.6" height="1" fill="#ff0000" shape-rendering="crispEdges"/>
<rect x="596.67" y="57" width="2.6" height="1" fill="#ff0000" shape-rendering="crispEdges"/>
<rect x="604.69" y="58" width="2.6" height="1" fill="#ff0000" shape-rendering="crispEdges"/>
<rect x="608.57" y="62" width="2.6" height="1" fill="#ff0000" shape-rendering="crispEdges"/>
<rect x="617.91" y="44" width="2.6" height="1" fill="#ff0000" shape-rendering="crispEdges"/>
<rect x="622.77" y="48" width="2.6" height="1" fill="#ff0000" shape-rendering="crispEdges"/>
<rect x="625.69" y="43" width="2.6" height="1" fill="#ff0000" shape-rendering="crispEdges"/>
<rect x="633.7" y="43" width="2.6" height="1" fill="#ff0000" shape-rendering="crispEdges"/>
<rect x="640.74" y="43" width="2.6" height="1" fill="#ff0000" shape-rendering="crispEdges"/>
<rect x="641.72" y="56" width="2.6" height="1" fill="#ff0000" shape-rendering="crispEdges"/>
<rect x="664.67" y="51" width="2.6" height="1" fill="#ff0000" shape-rendering="crispEdges"/>
<rect x="664.67" y="53" width="2.6" height="1" fill="#ff0000" shape-rendering="crispEdges"/>
<rect x="670.62" y="49" width="2.6" height="1" fill="#ff0000" shape-rendering="crispEdges"/>
<rect x="676.69" y="60" width="2.6" height="1" fill="#ff0000" shape-rendering="crispEdges"/>
<rect x="684.7" y="60" width="2.6" height="1" fill="#ff0000" shape-rendering="crispEdges"/>
<rect x="646.45" y="88" width="2.6" height="1" fill="#ff0000" shape-rendering="crispEdges"/>
<rect x="652.64" y="88" width="2.6" height="1" fill="#ff0000" shape-rendering="crispEdges"/>
<rect x="688.35" y="88" width="2.6" height="1" fill="#ff0000" shape-rendering="crispEdges"/>
<rect x="694.42" y="88" width="2.6" height="1" fill="#ff0000" shape-rendering="crispEdges"/>
<rect x="699.88" y="88" width="2.6" height="1" fill="#ff0000" shape-rendering="crispEdges"/>
<rect x="705.95" y="88" width="2.6" height="1" fill="#ff0000" shape-rendering="crispEdges"/>
<rect x="711.42" y="88" width="2.6" height="1" fill="#ff0000" shape-rendering="crispEdges"/>
<rect x="717.49" y="88" width="2.6" height="1" fill="#ff0000" shape-rendering="crispEdges"/>
<rect x="753.67" y="55" width="2.6" height="1" fill="#ff0000" shape-rendering="crispEdges"/>
<rect x="752.57" y="58" width="2.6" height="1" fill="#ff0000" shape-rendering="crispEdges"/>
<rect x="762.53" y="65" width="2.6" height="1" fill="#ff0000" shape-rendering="crispEdges"/>
<rect x="766.66" y="55" width="2.6" height="1" fill="#ff0000" shape-rendering="crispEdges"/>
<rect x="774.55" y="60" width="2.6" height="1" fill="#ff0000" shape-rendering="crispEdges"/>
<rect x="776.86" y="61" width="2.6" height="1" fill="#ff0000" shape-rendering="crispEdges"/>
<rect x="786.7" y="73" width="2.6" height="1" fill="#ff0000" shape-rendering="crispEdges"/>
<rect x="797.75" y="73" width="2.6" height="1" fill="#ff0000" shape-rendering="crispEdges"/>
<rect x="792.52" y="87" width="2.6" height="1" fill="#ff0000" shape-rendering="crispEdges"/>
<rect x="723.91" y="88" width="2.6" height="1" fill="#ff0000" shape-rendering="crispEdges"/>
<rect x="729.74" y="88" width="2.6" height="1" fill="#ff0000" shape-rendering="crispEdges"/>
<rect x="735.69" y="88" width="2.6" height="1" fill="#ff0000" shape-rendering="crispEdges"/>
<rect x="741.52" y="88" width="2.6" height="1" fill="#ff0000" shape-rendering="crispEdges"/>
<rect x="805.27" y="88" width="2.6" height="1" fill="#ff0000" shape-rendering="crispEdges"/>
<rect x="811.71" y="88" width="2.6" height="1" fill="#ff0000" shape-rendering="crispEdges"/>
<rect x="817.42" y="88" width="2.6" height="1" fill="#ff0000" shape-rendering="crispEdges"/>
<rect x="823.49" y="88" width="2.6" height="1" fill="#ff0000" shape-rendering="crispEdges"/>
<rect x="836.59" y="74" width="2.6" height="1" fill="#ff0000" shape-rendering="crispEdges"/>
<rect x="854.69" y="81" width="2.6" height="1" fill="#ff0000" shape-rendering="crispEdges"/>
<rect x="862.7" y="68" width="2.6" height="1" fill="#ff0000" shape-rendering="crispEdges"/>
<rect x="869.74" y="64" width="2.6" height="1" fill="#ff0000" shape-rendering="crispEdges"/>
<rect x="870.59" y="69" width="2.6" height="1" fill="#ff0000" shape-rendering="crispEdges"/>
<rect x="898.77" y="74" width="2.6" height="1" fill="#ff0000" shape-rendering="crispEdges"/>
<rect x="829.91" y="88" width="2.6" height="1" fill="#ff0000" shape-rendering="crispEdges"/>
<rect x="840.84" y="88" width="2.6" height="1" fill="#ff0000" shape-rendering="crispEdges"/>
<rect x="846.91" y="88" width="2.6" height="1" fill="#ff0000" shape-rendering="crispEdges"/>
<rect x="876.67" y="88" width="2.6" height="1" fill="#ff0000" shape-rendering="crispEdges"/>
<rect x="882.49" y="88" width="2.6" height="1" fill="#ff0000" shape-rendering="crispEdges"/>
<rect x="888.57" y="88" width="2.6" height="1" fill="#ff0000" shape-rendering="crispEdges"/>
<rect x="899.74" y="88" width="2.6" height="1" fill="#ff0000" shape-rendering="crispEdges"/>
<rect x="905.81" y="88" width="2.6" height="1" fill="#ff0000" shape-rendering="crispEdges"/>
<rect x="911.88" y="88" width="2.6" height="1" fill="#ff0000" shape-rendering="crispEdges"/>
<rect x="917.95" y="88" width="2.6" height="1" fill="#ff0000" shape-rendering="crispEdges"/>
<rect x="923.78" y="88" width="2.6" height="1" fill="#ff0000" shape-rendering="crispEdges"/>
<text x="106.2" y="22.9" font-size="9" fill="#ff0000" textLength="107" lengthAdjust="spacingAndGlyphs">10 min. peak winds in red</text>
<path d="M88.66 131.5h2.6M89.16 139.5h2.6M89.68 137.5h2.6M90.68 129.5h2.6M91.16 142.5h2.6M91.77 132.5h2.6M92.4 139.5h2.6M93.22 138.5h2.6M93.71 134.5h2.6M94.55 135.5h2.6M95.35 136.5h2.6M96.26 142.5h2.6M96.85 132.5h2.6M97.73 144.5h2.6M98.24 142.5h2.6M98.78 134.5h2.6M99.62 138.5h2.6M100.41 137.5h2.6M101.2 144.5h2.6M101.92 143.5h2.6M102.76 141.5h2.6M103.59 138.5h2.6M104.52 138.5h2.6M105.36 139.5h2.6M105.9 134.5h2.6M106.8 136.5h2.6M107.48 142.5h2.6M108.25 141.5h2.6M109.18 138.5h2.6M109.84 142.5h2.6M110.85 135.5h2.6M111.44 139.5h2.6M112.23 134.5h2.6M112.92 140.5h2.6M113.93 135.5h2.6M114.78 144.5h2.6M115.69 139.5h2.6M116.61 138.5h2.6M117.11 141.5h2.6M117.68 138.5h2.6M118.16 136.5h2.6M118.66 134.5h2.6M119.62 140.5h2.6M120.16 138.5h2.6M120.82 144.5h2.6M121.85 140.5h2.6M122.35 138.5h2.6M122.95 140.5h2.6M123.96 140.5h2.6M124.49 144.5h2.6M125.52 140.5h2.6M126.37 138.5h2.6M126.92 135.5h2.6M127.56 142.5h2.6M128.59 138.5h2.6M129.51 139.5h2.6M130.26 136.5h2.6M130.72 137.5h2.6M131.58 137.5h2.6M132.29 143.5h2.6M132.95 137.5h2.6M133.51 139.5h2.6M134.49 138.5h2.6M135.22 138.5h2.6M136.06 137.5h2.6M136.96 136.5h2.6M137.88 138.5h2.6M138.9 136.5h2.6M139.91 136.5h2.6M140.45 134.5h2.6M141.43 137.5h2.6M142.46 136.5h2.6M143.11 134.5h2.6M144.13 133.5h2.6M144.89 129.5h2.6M145.82 130.5h2.6M146.44 132.5h2.6M147.04 129.5h2.6M148.03 130.5h2.6M148.82 131.5h2.6M149.51 128.5h2.6M150.27 129.5h2.6M150.82 131.5h2.6M151.37 130.5h2.6M152.14 129.5h2.6M152.92 128.5h2.6M153.42 128.5h2.6M154.33 129.5h2.6M155.1 130.5h2.6M155.91 128.5h2.6M156.66 127.5h2.6M157.39 129.5h2.6M158.25 130.5h2.6M159.03 129.5h2.6M159.97 129.5h2.6M160.68 130.5h2.6M161.16 132.5h2.6M161.7 129.5h2.6M162.54 135.5h2.6M163.56 136.5h2.6M164.24 137.5h2.6M165.18 134.5h2.6M165.93 132.5h2.6M166.56 138.5h2.6M167.27 133.5h2.6M168.08 135.5h2.6M168.56 137.5h2.6M169.07 130.5h2.6M169.98 131.5h2.6M170.67 128.5h2.6M171.6 132.5h2.6M172.59 136.5h2.6M173.07 136.5h2.6M173.77 142.5h2.6M174.59 143.5h2.6M175.08 141.5h2.6M175.79 138.5h2.6M176.78 135.5h2.6M177.54 134.5h2.6M178.08 135.5h2.6M178.71 140.5h2.6M179.33 138.5h2.6M179.78 132.5h2.6M180.66 139.5h2.6M181.22 140.5h2.6M181.73 133.5h2.6M182.67 136.5h2.6M183.52 136.5h2.6M184.17 133.5h2.6M184.85 129.5h2.6M185.38 136.5h2.6M185.97 126.5h2.6M186.92 124.5h2.6M187.76 126.5h2.6M188.38 124.5h2.6M189.09 138.5h2.6M190.11 131.5h2.6M190.74 122.5h2.6M191.41 131.5h2.6M191.97 143.5h2.6M192.42 124.5h2.6M298.7 108.5h2.6M299.33 115.5h2.6M300.08 111.5h2.6M301.05 112.5h2.6M302.08 117.5h2.6M302.91 119.5h2.6M303.88 109.5h2.6M304.76 117.5h2.6M305.5 118.5h2.6M306.43 107.5h2.6M307.28 110.5h2.6M307.86 110.5h2.6M308.52 119.5h2.6M309.29 110.5h2.6M310.03 118.5h2.6M310.92 110.5h2.6M311.68 121.5h2.6M312.27 111.5h2.6M313.15 118.5h2.6M314.17 113.5h2.6M314.9 117.5h2.6M315.8 113.5h2.6M316.33 117.5h2.6M316.96 113.5h2.6M317.41 111.5h2.6M318.25 113.5h2.6M319.01 113.5h2.6M319.52 111.5h2.6M320.08 114.5h2.6M320.8 113.5h2.6M321.82 111.5h2.6M322.39 114.5h2.6M322.92 118.5h2.6M323.93 117.5h2.6M324.68 112.5h2.6M325.65 107.5h2.6M326.1 112.5h2.6M326.72 111.5h2.6M327.36 110.5h2.6M327.8 113.5h2.6M330.14 100.5h2.6M330.92 100.5h2.6M331.46 100.5h2.6M332.02 99.5h2.6M332.42 100.5h2.6M332.92 101.5h2.6M333.51 100.5h2.6M334.32 102.5h2.6M335.06 104.5h2.6M335.68 99.5h2.6M336.06 99.5h2.6M336.72 99.5h2.6M337.52 101.5h2.6M338.04 102.5h2.6M338.86 101.5h2.6M339.35 101.5h2.6M339.9 99.5h2.6M340.35 100.5h2.6M341.14 101.5h2.6M341.71 99.5h2.6M342.11 99.5h2.6M342.58 101.5h2.6M343.35 99.5h2.6M343.96 100.5h2.6M344.34 103.5h2.6M344.76 101.5h2.6M345.41 101.5h2.6M345.89 100.5h2.6M346.69 102.5h2.6M347.47 98.5h2.6M348.16 99.5h2.6M348.51 102.5h2.6M349.26 101.5h2.6M350.08 99.5h2.6M350.51 99.5h2.6M351.92 101.5h2.6M352.3 101.5h2.6M352.96 99.5h2.6M353.44 103.5h2.6M354.12 98.5h2.6M354.73 100.5h2.6M355.37 99.5h2.6M355.94 101.5h2.6M356.61 99.5h2.6M357.08 100.5h2.6M357.77 98.5h2.6M358.36 99.5h2.6M359.03 101.5h2.6M359.5 100.5h2.6M360.05 101.5h2.6M360.76 103.5h2.6M361.21 99.5h2.6M361.68 101.5h2.6M362.17 103.5h2.6M362.77 99.5h2.6M363.32 101.5h2.6M363.86 102.5h2.6M364.28 98.5h2.6M364.83 100.5h2.6M365.6 103.5h2.6M366.11 102.5h2.6M366.82 101.5h2.6M367.36 99.5h2.6M367.8 99.5h2.6M368.32 100.5h2.6M368.73 100.5h2.6M369.48 101.5h2.6M370.04 100.5h2.6M370.57 100.5h2.6M371.35 100.5h2.6M372.1 101.5h2.6M372.47 98.5h2.6M373.26 101.5h2.6M374.05 99.5h2.6M374.86 100.5h2.6M375.36 98.5h2.6M376.08 102.5h2.6M376.73 101.5h2.6M398.94 104.5h2.6M399.95 103.5h2.6M400.65 106.5h2.6M401.2 104.5h2.6M402.1 102.5h2.6M402.74 103.5h2.6M403.65 103.5h2.6M404.54 102.5h2.6M356.83 170.5h2.6M358.18 174.5h2.6M359.02 170.5h2.6M360.06 171.5h2.6M361.03 172.5h2.6M362.21 172.5h2.6M362.94 171.5h2.6M363.8 171.5h2.6M364.59 171.5h2.6M365.34 173.5h2.6M366.44 171.5h2.6M367.89 172.5h2.6M369.06 173.5h2.6M369.76 173.5h2.6M371.08 172.5h2.6M371.81 173.5h2.6M372.91 172.5h2.6M373.85 171.5h2.6M375.11 172.5h2.6M375.82 171.5h2.6M376.75 171.5h2.6M377.59 171.5h2.6M376.99 159.5h2.6M377.5 163.5h2.6M377.96 164.5h2.6M378.57 160.5h2.6M379.11 162.5h2.6M379.55 161.5h2.6M380.1 161.5h2.6M380.91 162.5h2.6M381.43 164.5h2.6M382.26 159.5h2.6M382.96 158.5h2.6M383.75 163.5h2.6M384.29 160.5h2.6M384.66 161.5h2.6M385.32 163.5h2.6M385.85 162.5h2.6M386.27 161.5h2.6M387.07 160.5h2.6M387.81 160.5h2.6M388.61 161.5h2.6M389.2 163.5h2.6M389.74 157.5h2.6M390.17 157.5h2.6M390.63 162.5h2.6M391.38 157.5h2.6M391.92 158.5h2.6M392.4 160.5h2.6M393.18 159.5h2.6M393.89 161.5h2.6M394.3 156.5h2.6M394.81 159.5h2.6M395.36 157.5h2.6M395.93 155.5h2.6M396.58 156.5h2.6M397.3 157.5h2.6M397.88 155.5h2.6M398.44 157.5h2.6M399.04 158.5h2.6M399.43 158.5h2.6M404.7 111.5h2.6M405.77 108.5h2.6M406.61 114.5h2.6M408.1 114.5h2.6M409.28 106.5h2.6M410.86 111.5h2.6M412.45 104.5h2.6M414.19 164.5h2.6M414.68 162.5h2.6M415.47 158.5h2.6M416.06 156.5h2.6M416.51 164.5h2.6M417.19 163.5h2.6M417.62 163.5h2.6M418.28 164.5h2.6M418.9 162.5h2.6M419.67 165.5h2.6M420.33 163.5h2.6M420.81 158.5h2.6M421.53 158.5h2.6M422.24 163.5h2.6M422.71 159.5h2.6M423.54 159.5h2.6M423.89 157.5h2.6M424.54 160.5h2.6M425.32 158.5h2.6M425.99 156.5h2.6M426.51 159.5h2.6M426.97 158.5h2.6M427.61 161.5h2.6M428.19 164.5h2.6M428.66 157.5h2.6M429.32 161.5h2.6M429.8 162.5h2.6M430.42 162.5h2.6M430.99 158.5h2.6M431.69 164.5h2.6M432.07 159.5h2.6M432.46 161.5h2.6M432.82 162.5h2.6M433.27 160.5h2.6M433.86 161.5h2.6M434.37 156.5h2.6M435.14 157.5h2.6M435.84 159.5h2.6M436.55 156.5h2.6M437.12 151.5h2.6M437.59 152.5h2.6M438.3 156.5h2.6M438.78 151.5h2.6M439.34 152.5h2.6M440 154.5h2.6M440.46 156.5h2.6M440.93 154.5h2.6M441.73 151.5h2.6M442.25 157.5h2.6M442.9 158.5h2.6M443.57 149.5h2.6M444.26 155.5h2.6M444.82 152.5h2.6M445.28 153.5h2.6M445.67 154.5h2.6M446.08 154.5h2.6M446.6 152.5h2.6M446.97 155.5h2.6M447.68 162.5h2.6M448.21 157.5h2.6M448.95 167.5h2.6M449.74 164.5h2.6M450.15 157.5h2.6M450.52 163.5h2.6M451.27 157.5h2.6M451.76 157.5h2.6M452.48 159.5h2.6M453.03 158.5h2.6M453.52 159.5h2.6M454.34 163.5h2.6M455.1 164.5h2.6M455.66 162.5h2.6M456.18 159.5h2.6M456.94 164.5h2.6M457.38 158.5h2.6M458.1 160.5h2.6M458.46 161.5h2.6M459.19 161.5h2.6M459.71 160.5h2.6M460.2 163.5h2.6M460.79 161.5h2.6M461.19 165.5h2.6M461.87 156.5h2.6M462.42 161.5h2.6M462.82 156.5h2.6M463.18 155.5h2.6M463.97 153.5h2.6M464.43 158.5h2.6M465.15 161.5h2.6M465.81 156.5h2.6M466.24 155.5h2.6M466.68 160.5h2.6M467.31 157.5h2.6M468.08 155.5h2.6M468.58 154.5h2.6M469.34 154.5h2.6M469.81 158.5h2.6M470.24 154.5h2.6M471.06 163.5h2.6M471.47 162.5h2.6M472.2 163.5h2.6M472.76 160.5h2.6M473.17 158.5h2.6M473.54 162.5h2.6M474.23 157.5h2.6M474.65 157.5h2.6M475.2 163.5h2.6M475.83 159.5h2.6M476.38 163.5h2.6M477.15 159.5h2.6M477.83 155.5h2.6M478.4 162.5h2.6M478.81 164.5h2.6M479.5 161.5h2.6M480.07 164.5h2.6M480.62 163.5h2.6M481.29 160.5h2.6M481.83 166.5h2.6M482.2 164.5h2.6M483.01 166.5h2.6M483.41 156.5h2.6M484.01 160.5h2.6M484.76 154.5h2.6M485.21 165.5h2.6M485.76 168.5h2.6M486.28 159.5h2.6M486.83 160.5h2.6M487.38 167.5h2.6M487.9 158.5h2.6M488.61 159.5h2.6M489.35 158.5h2.6M489.76 161.5h2.6M490.5 157.5h2.6M490.97 162.5h2.6M491.49 163.5h2.6M492.07 161.5h2.6M492.48 156.5h2.6M493.01 161.5h2.6M493.48 158.5h2.6M493.84 164.5h2.6M494.33 159.5h2.6M494.91 162.5h2.6M495.58 165.5h2.6M496.34 164.5h2.6M497.13 165.5h2.6M497.79 156.5h2.6M498.59 166.5h2.6M499.07 157.5h2.6M499.54 160.5h2.6M500.32 162.5h2.6M500.76 156.5h2.6M501.43 156.5h2.6M502.16 160.5h2.6M502.77 162.5h2.6M503.33 156.5h2.6M503.8 158.5h2.6M504.18 154.5h2.6M504.77 157.5h2.6M505.54 159.5h2.6M506.11 156.5h2.6M506.78 154.5h2.6M507.6 157.5h2.6M508.25 157.5h2.6M508.93 158.5h2.6M509.45 153.5h2.6M510.23 158.5h2.6M510.7 163.5h2.6M511.16 159.5h2.6M511.79 158.5h2.6M512.28 158.5h2.6M512.94 163.5h2.6M513.42 158.5h2.6M514.13 163.5h2.6M514.77 156.5h2.6M515.21 154.5h2.6M515.54 153.5h2.6M516.21 162.5h2.6M516.53 164.5h2.6M517.09 160.5h2.6M517.73 154.5h2.6M518.3 155.5h2.6M518.86 160.5h2.6M519.36 164.5h2.6M519.72 152.5h2.6M520.35 156.5h2.6M521 155.5h2.6M521.55 156.5h2.6M522.03 158.5h2.6M522.61 163.5h2.6M522.94 163.5h2.6M523.49 160.5h2.6M523.99 157.5h2.6M524.54 163.5h2.6M525.03 160.5h2.6M525.43 152.5h2.6M525.74 158.5h2.6M526.1 165.5h2.6M526.47 161.5h2.6M526.88 163.5h2.6M527.27 162.5h2.6M527.87 158.5h2.6M528.45 157.5h2.6M528.95 158.5h2.6M529.56 152.5h2.6M530.14 168.5h2.6M530.49 162.5h2.6M530.87 157.5h2.6M531.33 159.5h2.6M531.82 163.5h2.6M532.29 164.5h2.6M532.86 155.5h2.6M533.5 157.5h2.6M533.93 161.5h2.6M534.53 149.5h2.6M534.98 161.5h2.6M535.54 153.5h2.6M536.22 156.5h2.6M536.78 153.5h2.6M537.43 147.5h2.6M537.85 155.5h2.6M538.5 161.5h2.6M539.15 156.5h2.6M539.7 158.5h2.6M540.34 157.5h2.6M540.69 152.5h2.6M541.33 157.5h2.6M542.03 155.5h2.6M542.62 150.5h2.6M543.04 154.5h2.6M543.39 149.5h2.6M544.02 154.5h2.6M544.71 149.5h2.6M545.26 149.5h2.6M545.65 153.5h2.6M546.11 150.5h2.6M546.48 159.5h2.6M546.95 155.5h2.6M547.59 154.5h2.6M548.04 156.5h2.6M548.36 159.5h2.6M549.03 154.5h2.6M549.45 145.5h2.6M550.08 157.5h2.6M550.8 147.5h2.6M551.19 148.5h2.6M551.52 156.5h2.6M552.23 150.5h2.6M552.57 151.5h2.6M553.27 154.5h2.6M553.85 154.5h2.6M554.44 152.5h2.6M554.82 155.5h2.6M555.15 151.5h2.6M555.83 153.5h2.6M556.49 156.5h2.6M557.1 154.5h2.6M557.47 153.5h2.6M558.17 151.5h2.6M558.8 151.5h2.6M559.21 152.5h2.6M559.6 148.5h2.6M560.19 155.5h2.6M560.58 157.5h2.6M560.98 157.5h2.6M561.66 155.5h2.6M562.01 155.5h2.6M562.67 149.5h2.6M563.32 154.5h2.6M563.69 147.5h2.6M564.3 153.5h2.6M564.67 152.5h2.6M565.05 156.5h2.6M565.5 152.5h2.6M565.94 155.5h2.6M566.3 159.5h2.6M566.89 151.5h2.6M567.32 148.5h2.6M567.78 154.5h2.6M568.51 154.5h2.6M569.19 154.5h2.6M569.62 153.5h2.6M569.94 150.5h2.6M570.25 153.5h2.6M570.78 152.5h2.6M571.47 155.5h2.6M571.84 158.5h2.6M572.45 152.5h2.6M572.8 155.5h2.6M573.19 158.5h2.6M573.8 157.5h2.6M574.14 158.5h2.6M574.62 163.5h2.6M575.07 160.5h2.6M575.74 154.5h2.6M576.43 162.5h2.6M576.85 162.5h2.6M577.32 157.5h2.6M577.87 159.5h2.6M578.32 100.5h2.6M579.24 100.5h2.6M579.88 98.5h2.6M580.36 100.5h2.6M581.37 99.5h2.6M582.13 101.5h2.6M582.71 98.5h2.6M583.3 100.5h2.6M583.76 100.5h2.6M584.33 100.5h2.6M585.11 100.5h2.6M586.07 99.5h2.6M586.54 100.5h2.6M581.87 99.5h2.6M582.56 105.5h2.6M583.52 105.5h2.6M584.4 108.5h2.6M585.4 103.5h2.6M587.25 101.5h2.6M587.9 111.5h2.6M588.82 110.5h2.6M589.75 109.5h2.6M590.76 106.5h2.6M591.35 106.5h2.6M592.01 108.5h2.6M592.76 100.5h2.6M593.78 106.5h2.6M594.78 108.5h2.6M595.75 107.5h2.6M596.96 110.5h2.6M597.55 102.5h2.6M598.25 104.5h2.6M599.08 106.5h2.6M600.09 108.5h2.6M600.7 105.5h2.6M601.23 100.5h2.6M601.85 102.5h2.6M602.44 106.5h2.6M603.38 100.5h2.6M603.95 103.5h2.6M604.66 102.5h2.6M605.29 101.5h2.6M605.6 116.5h2.6M605.96 118.5h2.6M606.43 114.5h2.6M607.02 119.5h2.6M607.51 116.5h2.6M608.28 113.5h2.6M608.82 118.5h2.6M609.23 119.5h2.6M609.94 115.5h2.6M610.46 117.5h2.6M611.11 117.5h2.6M611.82 113.5h2.6M612.53 118.5h2.6M613.22 119.5h2.6M613.58 119.5h2.6M614.22 119.5h2.6M614.84 118.5h2.6M615.61 114.5h2.6M616.19 118.5h2.6M616.68 116.5h2.6M616.7 118.5h2.6M617.46 115.5h2.6M617.9 112.5h2.6M618.53 119.5h2.6M619.04 116.5h2.6M619.79 114.5h2.6M620.58 108.5h2.6M621.21 115.5h2.6M621.93 113.5h2.6M622.76 106.5h2.6M623.3 110.5h2.6M623.82 108.5h2.6M624.5 111.5h2.6M625.04 110.5h2.6M625.67 111.5h2.6M626.24 107.5h2.6M627.07 108.5h2.6M627.81 106.5h2.6M628.63 106.5h2.6M629.41 107.5h2.6M630.15 109.5h2.6M630.59 107.5h2.6M631.18 103.5h2.6M631.84 104.5h2.6M632.36 106.5h2.6M632.91 105.5h2.6M633.41 109.5h2.6M634.17 106.5h2.6M634.84 106.5h2.6M635.46 107.5h2.6M636.07 102.5h2.6M636.48 108.5h2.6M636.89 101.5h2.6M637.49 103.5h2.6M638.14 105.5h2.6M638.86 107.5h2.6M639.38 102.5h2.6M639.78 104.5h2.6M640.42 103.5h2.6M640.96 108.5h2.6M641.59 100.5h2.6M642.06 109.5h2.6M642.82 109.5h2.6M643.57 105.5h2.6M644.38 109.5h2.6M644.85 106.5h2.6M645.31 108.5h2.6M645.9 106.5h2.6M646.37 102.5h2.6M646.81 103.5h2.6M647.22 108.5h2.6M647.76 99.5h2.6M648.18 102.5h2.6M648.62 101.5h2.6M648.99 106.5h2.6M649.51 106.5h2.6M649.91 108.5h2.6M650.33 108.5h2.6M651.07 102.5h2.6M651.77 109.5h2.6M652.22 102.5h2.6M659.4 103.5h2.6M660.84 102.5h2.6M662.75 100.5h2.6M664.68 104.5h2.6M665.92 100.5h2.6M668.09 103.5h2.6M669.97 101.5h2.6M671.16 104.5h2.6M672.68 101.5h2.6M673.9 100.5h2.6M675.39 101.5h2.6M676.78 103.5h2.6M678.25 104.5h2.6M680.42 103.5h2.6M682.72 100.5h2.6M642.8 167.5h2.6M643.49 166.5h2.6M644.35 170.5h2.6M645 168.5h2.6M645.99 168.5h2.6M646.85 163.5h2.6M647.39 165.5h2.6M648.07 164.5h2.6M648.89 169.5h2.6M649.67 165.5h2.6M650.52 160.5h2.6M651.46 168.5h2.6M652.08 169.5h2.6M652.88 161.5h2.6M653.39 166.5h2.6M654.28 166.5h2.6M654.96 171.5h2.6M655.9 159.5h2.6M656.9 169.5h2.6M657.76 166.5h2.6M658.47 166.5h2.6M659.17 159.5h2.6M660.17 166.5h2.6M660.64 164.5h2.6M661.41 160.5h2.6M662.23 163.5h2.6M662.89 159.5h2.6M663.51 165.5h2.6M664.36 160.5h2.6M665.11 167.5h2.6M665.76 167.5h2.6M666.29 163.5h2.6M666.93 157.5h2.6M667.48 161.5h2.6M668.28 165.5h2.6M669.22 160.5h2.6M669.87 158.5h2.6M670.49 165.5h2.6M671.2 161.5h2.6M671.92 159.5h2.6M672.41 168.5h2.6M673.3 165.5h2.6M674.32 166.5h2.6M675.02 164.5h2.6M675.47 166.5h2.6M676.3 168.5h2.6M676.9 160.5h2.6M677.36 162.5h2.6M678.3 161.5h2.6M679.12 166.5h2.6M680.03 165.5h2.6M654.66 146.5h2.6M656.15 147.5h2.6M657.39 150.5h2.6M683.13 157.5h2.6M683.95 154.5h2.6M684.95 155.5h2.6M685.49 156.5h2.6M685.98 147.5h2.6M686.52 160.5h2.6M687.02 153.5h2.6M687.58 160.5h2.6M688.53 153.5h2.6M689.23 154.5h2.6M689.98 150.5h2.6M690.69 155.5h2.6M691.23 150.5h2.6M692.01 147.5h2.6M692.5 150.5h2.6M693.52 142.5h2.6M694.48 154.5h2.6M695.41 151.5h2.6M696.21 149.5h2.6M697.22 149.5h2.6M697.85 152.5h2.6M698.31 149.5h2.6M699.02 148.5h2.6M699.68 144.5h2.6M700.37 142.5h2.6M700.89 150.5h2.6M701.66 149.5h2.6M702.25 145.5h2.6M702.85 145.5h2.6M703.43 143.5h2.6M703.94 143.5h2.6M704.62 143.5h2.6M705.58 143.5h2.6M706.45 151.5h2.6M707.32 147.5h2.6M708 148.5h2.6M708.78 149.5h2.6M709.3 144.5h2.6M709.97 143.5h2.6M710.54 144.5h2.6M711.24 142.5h2.6M712.05 134.5h2.6M713.01 144.5h2.6M713.66 138.5h2.6M714.51 143.5h2.6M715.39 142.5h2.6M716.26 141.5h2.6M716.77 140.5h2.6M717.76 138.5h2.6M718.36 139.5h2.6M719.3 140.5h2.6M719.81 140.5h2.6M720.36 138.5h2.6M721.04 142.5h2.6M721.8 143.5h2.6M722.72 141.5h2.6M722.7 136.5h2.6M723.47 137.5h2.6M724.21 135.5h2.6M724.76 131.5h2.6M725.51 137.5h2.6M726.16 131.5h2.6M726.62 131.5h2.6M727.05 131.5h2.6M727.68 130.5h2.6M728.04 130.5h2.6M728.56 130.5h2.6M729.38 126.5h2.6M730.05 127.5h2.6M730.65 129.5h2.6M731.25 128.5h2.6M731.88 127.5h2.6M732.65 123.5h2.6M733.17 128.5h2.6M733.94 122.5h2.6M734.62 127.5h2.6M735.33 122.5h2.6M735.95 119.5h2.6M736.46 128.5h2.6M737.05 121.5h2.6M737.51 119.5h2.6M737.87 121.5h2.6M738.44 123.5h2.6M738.94 118.5h2.6M739.44 124.5h2.6M740.06 118.5h2.6M740.69 118.5h2.6M741.32 126.5h2.6M741.85 116.5h2.6M742.24 124.5h2.6M742.72 116.5h2.6M743.16 122.5h2.6M743.62 117.5h2.6M744.26 122.5h2.6M744.92 121.5h2.6M745.74 123.5h2.6M746.51 115.5h2.6M746.95 120.5h2.6M747.72 119.5h2.6M748.23 117.5h2.6M748.9 119.5h2.6M749.41 116.5h2.6M749.79 116.5h2.6M750.43 116.5h2.6M750.79 119.5h2.6M751.42 119.5h2.6M752.12 113.5h2.6M752.55 118.5h2.6M752.95 117.5h2.6M753.5 113.5h2.6M754.17 114.5h2.6M754.68 115.5h2.6M755.4 118.5h2.6M755.9 117.5h2.6M756.39 114.5h2.6M757.19 111.5h2.6M757.78 114.5h2.6M758.6 115.5h2.6M759 112.5h2.6M759.38 112.5h2.6M759.47 107.5h2.6M760.14 102.5h2.6M761.02 106.5h2.6M761.92 110.5h2.6M762.66 108.5h2.6M763.31 106.5h2.6M764.29 111.5h2.6M764.78 110.5h2.6M765.46 113.5h2.6M766.15 112.5h2.6M767.15 112.5h2.6M767.75 110.5h2.6M768.32 115.5h2.6M769.15 117.5h2.6M769.72 117.5h2.6M770.15 123.5h2.6M770.9 119.5h2.6M771.48 124.5h2.6M771.91 118.5h2.6M772.55 118.5h2.6M773 117.5h2.6M773.77 122.5h2.6M774.59 116.5h2.6M775 122.5h2.6M775.36 121.5h2.6M775.77 120.5h2.6M776.16 122.5h2.6M776.86 121.5h2.6M777.68 116.5h2.6M778.41 120.5h2.6M778.88 115.5h2.6M779.24 118.5h2.6M779.75 119.5h2.6M780.17 115.5h2.6M780.85 119.5h2.6M781.44 116.5h2.6M782.04 118.5h2.6M782.56 120.5h2.6M783.33 116.5h2.6M783.81 113.5h2.6M784.41 116.5h2.6M784.94 117.5h2.6M785.6 117.5h2.6M786.22 120.5h2.6M786.92 114.5h2.6M787.47 115.5h2.6M788.01 115.5h2.6M788.44 118.5h2.6M789.23 116.5h2.6M789.77 113.5h2.6M790.18 115.5h2.6M790.9 118.5h2.6M791.41 116.5h2.6M792.03 118.5h2.6M792.39 116.5h2.6M793.02 112.5h2.6M793.49 114.5h2.6M794.18 114.5h2.6M794.83 112.5h2.6M795.34 112.5h2.6M795.99 117.5h2.6M796.57 113.5h2.6M797.17 111.5h2.6M797.59 110.5h2.6M798.2 113.5h2.6M798.67 116.5h2.6M799.24 116.5h2.6M800.01 112.5h2.6M800.76 108.5h2.6M801.18 111.5h2.6M801.58 116.5h2.6M802.18 109.5h2.6M802.73 112.5h2.6M803.31 110.5h2.6M804.03 114.5h2.6M804.56 113.5h2.6M805.07 108.5h2.6M805.52 115.5h2.6M805.91 114.5h2.6M806.39 108.5h2.6M807.15 109.5h2.6M807.91 105.5h2.6M808.64 105.5h2.6M809.21 107.5h2.6M809.7 106.5h2.6M810.44 104.5h2.6M811.07 106.5h2.6M811.52 104.5h2.6M812.19 102.5h2.6M812.91 105.5h2.6M813.5 103.5h2.6M814.21 106.5h2.6M814.79 107.5h2.6M815.34 108.5h2.6M815.91 105.5h2.6M816.65 105.5h2.6M817.03 102.5h2.6M817.65 105.5h2.6M818.11 107.5h2.6M818.51 107.5h2.6M819.14 106.5h2.6M819.83 101.5h2.6M820.51 105.5h2.6M815.23 148.5h2.6M817.15 150.5h2.6M818.66 156.5h2.6M819.87 153.5h2.6M821.06 154.5h2.6M822.45 156.5h2.6M824.37 159.5h2.6M826.27 160.5h2.6M827.23 161.5h2.6M828.7 166.5h2.6M828.7 158.5h2.6M829.63 156.5h2.6M830.54 157.5h2.6M831.31 158.5h2.6M832.05 159.5h2.6M833.15 154.5h2.6M828.7 172.5h2.6M829.85 172.5h2.6M830.99 173.5h2.6M832.31 172.5h2.6M834.18 169.5h2.6M836.21 170.5h2.6M835.82 169.5h2.6M836.27 162.5h2.6M837 163.5h2.6M837.55 162.5h2.6M838.23 158.5h2.6M838.92 162.5h2.6M839.41 159.5h2.6M839.92 162.5h2.6M840.35 155.5h2.6M840.78 159.5h2.6M841.6 151.5h2.6M842.14 153.5h2.6M842.54 155.5h2.6M843.1 157.5h2.6M843.51 159.5h2.6M844.33 161.5h2.6M844.94 158.5h2.6M845.65 163.5h2.6M846.05 163.5h2.6M846.69 161.5h2.6M847.18 161.5h2.6M847.93 163.5h2.6M848.3 161.5h2.6M849.11 159.5h2.6M849.49 159.5h2.6M849.96 161.5h2.6M850.46 160.5h2.6M850.86 162.5h2.6M851.59 158.5h2.6M852.19 160.5h2.6M852.61 159.5h2.6M853.13 160.5h2.6M853.56 161.5h2.6M854.08 160.5h2.6M854.5 161.5h2.6M854.92 158.5h2.6M855.33 156.5h2.6M855.94 156.5h2.6M856.47 157.5h2.6M856.92 156.5h2.6M857.69 158.5h2.6M858.49 160.5h2.6M859.12 160.5h2.6M859.58 163.5h2.6M859.95 162.5h2.6M860.45 163.5h2.6M860.84 162.5h2.6M861.57 164.5h2.6M861.96 163.5h2.6M862.78 163.5h2.6M863.46 161.5h2.6M864.04 165.5h2.6M864.4 161.5h2.6M864.8 164.5h2.6M865.48 162.5h2.6M865.9 161.5h2.6M866.41 163.5h2.6M867.24 161.5h2.6M867.97 163.5h2.6M868.68 163.5h2.6M869.44 165.5h2.6M869.84 162.5h2.6M870.65 164.5h2.6M871.36 166.5h2.6M872.16 164.5h2.6M872.9 162.5h2.6M873.46 166.5h2.6M873.96 163.5h2.6M874.56 170.5h2.6M875.29 169.5h2.6M875.76 168.5h2.6M876.23 171.5h2.6M876.91 172.5h2.6M873.78 160.5h2.6M874.98 156.5h2.6M875.8 159.5h2.6M876.93 157.5h2.6M878.06 157.5h2.6M878.61 157.5h2.6M879.44 154.5h2.6M880.3 152.5h2.6M881.08 151.5h2.6M881.68 153.5h2.6M882.08 128.5h2.6M883.37 128.5h2.6M884.03 127.5h2.6M885.45 122.5h2.6M886.81 123.5h2.6M888.18 119.5h2.6M889.59 119.5h2.6M891.57 154.5h2.6M892.02 156.5h2.6M892.73 152.5h2.6M893.32 148.5h2.6M894.1 147.5h2.6M895.09 147.5h2.6M895.93 147.5h2.6M896.64 142.5h2.6M897.46 143.5h2.6M898.31 144.5h2.6M899.05 143.5h2.6M899.53 138.5h2.6M900.24 134.5h2.6M901.21 130.5h2.6M901.85 133.5h2.6M902.82 131.5h2.6M903.61 130.5h2.6M904.5 130.5h2.6M905.11 130.5h2.6M905.8 133.5h2.6M906.63 131.5h2.6M907.65 130.5h2.6M908.5 130.5h2.6M909.29 132.5h2.6M909.81 131.5h2.6M910.78 134.5h2.6M911.33 130.5h2.6M909.36 133.5h2.6M910.38 126.5h2.6M911.38 124.5h2.6M912.09 121.5h2.6M912.77 123.5h2.6M913.37 121.5h2.6M914.08 115.5h2.6M914.11 119.5h2.6M914.54 117.5h2.6M915.05 119.5h2.6M915.64 121.5h2.6M916.01 120.5h2.6M916.29 122.5h2.6M916.76 122.5h2.6M917.12 119.5h2.6M917.59 120.5h2.6M918.14 121.5h2.6M918.64 121.5h2.6M919.13 122.5h2.6M919.73 121.5h2.6M920.12 124.5h2.6M920.51 125.5h2.6M920.97 122.5h2.6M921.28 122.5h2.6M921.69 122.5h2.6M922.26 123.5h2.6M922.74 126.5h2.6M923.28 124.5h2.6M923.6 125.5h2.6M924.19 123.5h2.6M924.72 123.5h2.6M925.04 122.5h2.6M925.55 125.5h2.6M926.03 125.5h2.6M926.4 123.5h2.6M926.7 127.5h2.6M927.09 124.5h2.6M927.39 125.5h2.6M927.88 124.5h2.6M928.17 125.5h2.6M928.72 126.5h2.6M929.03 125.5h2.6M929.41 125.5h2.6M929.76 125.5h2.6M930.1 125.5h2.6M930.38 123.5h2.6M930.65 124.5h2.6M931.15 125.5h2.6M931.62 125.5h2.6M932.1 126.5h2.6M193.29 126.5h2.6M193.89 136.5h2.6M194.48 137.5h2.6M195.07 140.5h2.6M196.85 131.5h2.6M197.44 133.5h2.6M198.63 137.5h2.6M201 130.5h2.6M202.19 128.5h2.6M202.78 127.5h2.6M204.56 141.5h2.6M205.75 137.5h2.6M206.93 132.5h2.6M207.53 129.5h2.6M208.71 127.5h2.6M210.49 143.5h2.6M211.68 140.5h2.6M213.46 140.5h2.6M214.65 127.5h2.6M215.24 131.5h2.6M216.42 127.5h2.6M217.61 124.5h2.6M218.2 136.5h2.6M219.39 144.5h2.6M220.58 146.5h2.6M221.17 131.5h2.6M222.36 128.5h2.6M223.54 148.5h2.6M224.14 143.5h2.6M224.73 139.5h2.6M224.73 132.5h2.6M225.91 126.5h2.6M226.51 116.5h2.6M227.1 123.5h2.6M227.69 130.5h2.6M228.29 125.5h2.6M228.88 125.5h2.6M230.07 129.5h2.6M230.66 128.5h2.6M231.85 136.5h2.6M232.44 138.5h2.6M233.63 135.5h2.6M234.81 142.5h2.6M234.81 150.5h2.6M236 154.5h2.6M236.59 125.5h2.6M236.59 109.5h2.6M237.78 139.5h2.6M237.78 133.5h2.6M238.96 163.5h2.6M239.56 149.5h2.6M240.15 153.5h2.6M241.34 151.5h2.6M241.34 156.5h2.6M242.52 156.5h2.6M243.71 159.5h2.6M244.89 151.5h2.6M245.49 148.5h2.6M246.67 115.5h2.6M247.27 132.5h2.6M247.86 136.5h2.6M248.45 134.5h2.6M249.05 130.5h2.6M249.64 128.5h2.6M250.83 120.5h2.6M250.83 123.5h2.6M252.01 128.5h2.6M253.2 128.5h2.6M254.38 126.5h2.6M255.57 125.5h2.6M256.76 128.5h2.6M257.35 123.5h2.6M258.54 127.5h2.6M259.72 128.5h2.6M260.91 125.5h2.6M262.1 125.5h2.6M263.28 123.5h2.6M263.87 129.5h2.6M265.06 121.5h2.6M266.25 127.5h2.6M266.84 129.5h2.6M268.03 119.5h2.6M268.62 117.5h2.6M270.99 116.5h2.6M270.99 124.5h2.6M272.18 117.5h2.6M274.55 119.5h2.6M275.74 116.5h2.6M276.33 123.5h2.6M277.52 116.5h2.6M278.11 119.5h2.6M279.89 126.5h2.6M280.48 116.5h2.6M281.67 116.5h2.6M282.85 115.5h2.6M284.04 115.5h2.6M284.63 122.5h2.6M285.82 115.5h2.6M287.01 117.5h2.6M287.6 124.5h2.6M288.19 120.5h2.6M289.38 118.5h2.6M289.97 116.5h2.6M290.56 127.5h2.6M291.16 113.5h2.6M292.34 109.5h2.6M293.53 108.5h2.6M294.12 111.5h2.6M294.72 113.5h2.6M295.9 112.5h2.6M296.5 122.5h2.6M297.68 113.5h2.6M298.28 112.5h2.6M199.82 129.5h2.6M203.38 130.5h2.6M209.9 140.5h2.6M217.02 128.5h2.6M221.76 130.5h2.6M222.95 132.5h2.6M229.47 130.5h2.6M231.25 128.5h2.6M252.61 128.5h2.6M253.79 128.5h2.6M257.94 125.5h2.6M259.13 128.5h2.6M261.5 129.5h2.6M262.69 124.5h2.6M269.81 117.5h2.6M273.36 116.5h2.6M276.92 119.5h2.6M279.3 117.5h2.6M283.45 116.5h2.6M285.23 117.5h2.6M288.79 117.5h2.6M327.17 110.5h2.6M328.95 109.5h2.6M330.14 111.5h2.6M331.32 105.5h2.6M374.62 106.5h2.6M334.29 171.5h2.6M336.66 170.5h2.6M340.22 172.5h2.6M343.78 172.5h2.6M346.15 172.5h2.6M452.74 105.5h2.6M467.57 100.5h2.6M460.45 120.5h2.6M409.44 139.5h2.6M408.85 151.5h2.6M407.67 171.5h2.6M413.6 169.5h2.6M465.79 146.5h2.6M465.79 149.5h2.6M477.65 148.5h2.6M464.01 154.5h2.6M528.49 143.5h2.6M528.49 146.5h2.6M578.91 170.5h2.6M581.87 169.5h2.6M584.84 172.5h2.6M587.81 169.5h2.6M590.18 169.5h2.6M602.04 163.5h2.6M602.04 167.5h2.6M598.48 116.5h2.6M677.79 112.5h2.6M659.64 123.5h2.6M649.68 127.5h2.6M650.51 135.5h2.6M656.79 146.5h2.6M657.03 152.5h2.6M648.73 114.5h2.6M712.79 152.5h2.6M714.56 158.5h2.6M644.58 169.5h2.6M646.36 173.5h2.6M761.85 99.5h2.6M798.62 106.5h2.6M821.75 116.5h2.6M763.63 167.5h2.6M809.89 172.5h2.6M771.93 122.5h2.6M834.04 99.5h2.6M832.85 105.5h2.6M886.83 117.5h2.6M889.2 115.5h2.6M889.79 127.5h2.6" stroke="#000" stroke-width="1" fill="none"/>
<polyline points="88.5,218.37 90.32,218.46 92.14,219.41 93.87,219.89 95.59,220.45 97.32,220.44 98.87,219.75 100.42,219.41 101.8,218.94 103.18,219.38 104.56,219.41 106.12,219.58 107.67,219.79 109.22,218.98 110.77,219.41 112.15,219.51 113.53,220.76 114.92,221.06 116.47,221.33 118.02,221.81 119.57,221.72 121.13,221.48 122.51,221.1 123.89,220.69 125.27,220.44 126.82,221.65 128.37,221.06 129.93,221.33 131.48,221.51 133.03,221.75 134.58,222.51 136.03,222.42 137.48,222.32 138.93,222.02 140.38,221.99 141.83,221.89 143.21,222.02 144.59,222.2 145.97,222.38 147.35,222.1 148.73,221.44 150.11,222.1 151.66,222.66 153.22,222.72 154.6,223.05 155.98,224.32 157.36,225.2 158.81,224.85 160.26,225.54 161.71,225.43 163.16,225.94 164.6,226.03 166.16,226.83 167.71,225.29 169.26,225.24 170.82,224.58 172.37,224.12 173.92,224.48 175.47,224.82 177.03,224.58 178.58,224.76 180.13,225.13 181.69,225.24 183.24,225.41 184.62,225.03 186,225.54 187.38,225.02 188.76,225.93 190.14,225.06 191.52,225.2 193.07,225.55 194.63,225.41 196.18,225.85 197.73,225.62 199.28,225.62 200.84,226.38 202.39,226.2 203.94,226.45 205.32,226.79 206.7,226.46 208.08,226.19 209.46,225.76 210.84,226.2 212.22,225.83 214.29,226.45 215.85,227.75 217.4,229.3 218.95,229.73 220.51,231 222.06,231.4 223.61,231.59 225.16,231.72 226.72,231.83 228.17,232.23 229.61,232.56 231.06,232.61 232.51,232.8 233.96,233.49 235.34,232.38 236.72,231.76 238.1,230.59 239.83,230.98 241.55,230.65 243.28,230.17 244.66,229.92 246.04,229.2 247.42,228.31 249.49,229.35 251.04,231.14 252.6,232.45 254.32,232.79 256.05,233.27 257.77,233.28 259.33,233.8 260.88,232.96 262.43,232.73 263.98,232.87 265.54,232.98 267.09,231.81 268.64,231.5 270.19,230.59 271.75,230.69 273.3,229.78 274.85,230.82 276.41,229.76 277.96,230.64 279.51,230.34 281.06,230.8 282.62,230.8 284,231.32 285.38,231.45 286.76,232.24 288.14,231.93 289.52,231.82 290.9,231.42 292.28,232.08 293.66,232.22 295.04,232.24 296.69,231.99 298.35,232.17 300,231.42 300.01,231.42 301.39,231.84 302.76,233.07 304.14,233.49 305.52,233.46 306.9,232.56 308.28,232.24 309.66,231.82 311.04,232.34 312.42,232.87 313.8,233.29 315.18,233.74 316.56,233.9 318.12,234.75 319.67,234.17 321.22,234.83 322.77,235.14 324.33,235.47 325.88,235.29 327.43,234.62 328.99,235.56 330.54,235.89 332.09,236.47 333.64,236.06 335.2,235.76 337.27,239.08 338.65,241.52 340.03,244.45 341.41,247.36 342.79,248.47 344.17,250.3 345.55,250.46 346.93,251.02 348.31,251.19 349.69,251.5 351.07,253.08 352.45,253.54 353.83,254.6 355.9,253.16 357.28,254.57 358.66,254.43 360.04,255.43 361.59,255.16 363.15,255.48 364.7,255.62 366.25,255.02 367.81,254.73 369.36,254.09 370.91,252.83 372.46,252.95 373.84,251.87 375.22,251.08 376.6,250.46 378.16,249.03 379.71,247.98 381.26,247.36 382.82,246.32 384.2,246.76 385.58,247.7 386.96,247.98 388.34,248.01 389.72,247.86 391.1,247.98 392.48,246.99 393.86,246.06 395.24,244.87 396.62,244.83 398,244.02 399.38,243.84 400.76,242.38 402.14,240.6 403.52,239.7 404.9,240.74 406.28,241.17 407.66,241.15 409.04,240.19 410.42,239.19 411.8,238.46 413.18,237.33 414.56,237.13 415.94,236.39 417.49,234.9 419.05,233.28 420.6,234.56 422.15,234.31 423.53,235.51 424.91,236.25 426.29,237.63 427.85,237.19 429.4,238.46 430.95,238.33 432.51,237.21 433.89,236.31 435.27,234.72 436.65,234.31 438.03,234.45 439.41,233.89 440.79,234.52 442.86,233.49 444.41,232.63 445.96,229.35 447.52,229.94 449.07,229.76 450.62,229.24 452.17,228.31 453.73,228.97 455.28,229.76 456.83,228.8 458.39,229.35 459.83,232.24 461.18,230.44 462.53,228.72 464.08,229.22 465.63,230.8 467.36,230.11 469.08,228.25 470.81,228.1 472.88,229.35 474.43,229.96 475.98,231.21 477.54,229.67 479.09,227.28 481.16,223.13 482.71,225.78 484.27,227.28 486.34,226.03 488.82,218.58 490.68,220.86 492.55,223.96 494.62,223.13 496.17,221.77 497.72,221.48 499.1,219.72 500.48,217.64 501.86,215.27 503.42,216.99 504.97,219.41 506.52,219.48 508.07,220.03 510.14,222.1 512,220.44 512.01,221.06 514.07,221.06 516.14,218.37 517.69,217.09 519.25,216.3 521.32,211.13 523.39,209.68 524.94,209.67 526.49,210.51 528.05,209.85 529.6,209.68 531.67,212.16 533.74,207.4 535.81,213.2 537.88,215.68 539.95,211.54 542.02,213.2 544.09,212.78 546.16,209.06 548.23,210.09 550.3,212.16 552.37,203.26 553.72,204.52 555.06,204.92 557.55,213.2 559.62,215.27 561.69,210.09 563.24,209.61 564.8,208.64 566.87,207.61 568.42,205.95 569.97,202.84 572.04,206.99 573.7,211.13 576.18,205.95 578.25,203.88 579.81,204.68 581.36,205.54 582.91,205.49 584.46,205.54 586.53,202.84 588.6,202.43 590.16,200.43 591.71,199.12 593.26,198.76 594.82,198.5 596.37,198.14 597.92,198.7 599.68,196.84 601.44,196.22 603.1,199.33 604.65,198.64 606.2,197.46 607.76,198.28 609.31,198.08 610.86,199.72 612.41,200.77 613.97,201.97 615.52,202.22 617.59,201.6 619.14,204.07 620.7,206.36 622.77,204.92 624.32,204.15 625.87,203.88 627.42,206.19 628.98,208.43 630.53,208.61 632.08,209.06 633.64,208.15 635.19,208.02 637.26,205.95 639.33,201.19 641.4,197.05 643.47,201.19 645.02,199.66 646.58,199.33 648.13,197.46 649.68,196.63 651.23,195.08 652.79,193.53 654.86,194.56 656.41,195.65 657.96,196.63 659.41,194.15 661.48,187.32 663.14,182.55 665.21,183.18 666.87,188.77 669.35,191.46 670.9,192.12 672.46,193.11 674.53,190.42 676.6,188.97 678.67,190.84 680.01,189.06 681.36,186.28 683.43,186.28 685.91,187.94 687.57,188.35 689.64,195.6 691.71,196.63 693.78,192.49 696.27,192.91 698.34,193.53 700.82,196.01 702.89,194.98 704.24,194.32 705.58,193.53 707.13,195.8 708.69,197.67 710.76,198.7 712.31,200.89 713.86,202.22 715.93,198.29 717.28,198.52 718.63,199.33 720.7,201.19 722.35,201.53 724,203.26 724.01,203.26 725.39,203.52 726.76,203.02 728.14,203.26 729.52,204.13 730.9,204.21 732.28,204.5 733.66,205.13 735.04,205.32 736.42,205.33 737.98,205.95 739.53,208.02 741.08,209.83 742.63,211.13 744.01,210.89 745.39,210.86 746.77,211.13 748.33,210.97 749.88,211.4 751.43,211.44 752.99,211.13 754.54,213.34 756.09,214.85 757.64,216.34 759.2,218.99 760.58,219.41 761.96,219.4 763.34,220.86 764.72,220.34 766.1,220.1 767.48,219.41 768.86,220.04 770.24,221.29 771.62,222.1 773,223.35 774.38,224.8 775.76,225.62 777.49,225.54 779.21,225.74 780.94,226.24 782.32,225.21 783.7,225.34 785.08,223.96 787.15,223.13 788.7,224.14 790.25,224.38 791.98,223.51 793.7,222.8 795.43,221.89 796.81,222.21 798.19,222.52 799.57,222.72 801.12,222.49 802.67,222.29 804.23,221.81 805.78,222.1 807.33,221.36 808.89,221.06 810.61,221.37 812.34,220.7 814.06,220.24 815.44,219.98 816.82,219.61 818.2,219.41 819.58,220.12 820.96,220.91 822.34,221.48 823.9,220.73 825.45,220.44 827.52,216.51 829.07,217.51 830.63,218.37 832.18,219.6 833.73,220.65 835.59,222.04 837.46,223.96 839.94,221.48 842.43,220.86 844.5,222.93 846.36,222.44 848.22,222.51 850.71,222.51 852.05,223.41 853.4,225 854.95,225.25 856.51,226.24 857.89,226.28 859.27,224.86 860.65,225.41 862.03,224.97 863.41,224.51 864.79,224.38 866.17,224.16 867.55,224.41 868.93,224.38 870.31,224.91 871.69,224.68 873.07,224.79 874.45,224.47 875.83,224.02 877.21,223.96 878.59,224.12 879.97,224.7 881.35,224.58 883.08,224.38 884.8,224.04 886.53,224.38 888.08,224.45 889.63,225.41 891.01,225.78 892.39,226.44 893.77,227.69 895.33,227.45 896.88,226.45 898.26,226.43 899.64,226.09 901.02,226.03 902.57,227.89 904.12,228.72 905.68,228.8 907.23,229.35 908.61,228.92 909.99,228.25 911.37,227.28 913.44,228.72 915.51,228.72 916.86,227.46 918.2,227.28 920.69,229.76 922.24,230.46 923.79,232.24 925.17,232.61 926.55,233.94 927.93,234.31 929.49,234.35 931.04,233.49 932.59,233.47 934.14,234.31" fill="none" stroke="#080808" stroke-width="0.95" stroke-linejoin="round" />
<polyline points="88.5,293.13 89.93,293.7 91.36,293.16 92.78,293.26 94.21,293.54 95.76,292.98 97.32,292.77 98.87,291.79 100.42,292.3 101.98,291.64 103.53,291.33 105.08,291.9 106.63,291.47 108.36,292.27 110.08,292.42 111.81,291.06 113.19,290.21 114.57,288.9 115.95,288.99 117.5,289.32 119.06,290.02 120.44,289.39 121.82,290.5 123.2,289.4 124.92,290 126.65,289.76 128.37,290.43 130.1,290.17 131.82,289.3 133.55,288.36 135.27,287.43 137,287.71 138.72,287.74 140.28,287.74 141.83,287.96 143.38,288.11 144.94,288.16 146.66,287.45 148.39,287.14 150.11,286.5 151.84,286.03 153.56,285.68 155.29,285.88 157.01,286.08 158.74,285.08 160.46,284.43 161.84,284.83 163.22,284.13 164.6,285.05 166.16,284.67 167.71,284.43 169.09,285.14 170.47,284.54 171.85,285.47 173.4,286.27 174.96,286.09 176.68,285.64 178.41,285.72 180.13,285.26 181.86,285.06 183.58,285.08 185.31,284.84 186.86,285.18 188.41,284.25 189.97,284.93 191.52,284.02 192.9,283.6 194.28,283.46 195.66,283.81 197.39,284.47 199.11,284.02 200.84,284.84 202.39,284.32 203.94,284.53 205.49,284.3 207.05,283.4 208.43,282.8 209.81,284.04 211.19,284.02 212.57,284.17 213.95,283.17 215.33,281.95 216.88,280.91 218.43,280.08 219.82,278.64 221.2,277.6 222.58,276.56 224.13,275.53 225.68,275.41 227.23,274.93 228.79,274.49 230.17,274.22 231.55,274.61 232.93,273.87 234.31,273.28 235.69,272.25 237.07,272.42 238.45,273.03 239.83,272.22 241.21,272.84 242.93,272.5 244.66,272.5 246.39,272.42 248.11,272.82 249.84,273.08 251.56,274.08 252.94,273.76 254.32,274.65 255.7,273.46 257.08,273.08 258.46,273.19 259.84,273.65 261.22,273.38 262.6,273.28 263.98,272.84 265.54,273.28 267.09,272.05 268.64,272.6 270.19,273.04 271.75,273.26 273.3,273.58 274.85,274.09 276.41,273.66 277.96,273.93 279.51,273.66 281.06,273.84 282.62,273.87 284,273.16 285.38,272.74 286.76,272.01 288.14,272.24 289.52,271.72 290.9,271.8 292.28,271.5 293.66,271.55 295.04,272.01 296.69,272.29 298.35,272.17 300,271.39 300.01,271.39 301.39,272.18 302.76,272.46 304.14,272.42 305.87,272.45 307.59,271.73 309.32,271.39 311.04,271.48 312.77,270.5 314.49,270.77 316.05,270.31 317.6,269.71 319.15,270.01 320.7,269.32 322.43,268.5 324.15,268.16 325.88,267.66 327.61,267.7 329.33,267.99 331.06,267.25 332.44,266.68 333.82,266.41 335.2,266.63 337.27,268.7 338.65,268.58 340.03,267.23 341.41,267.25 342.96,267.09 344.51,266.27 346.07,266.11 347.62,265.8 349.07,264.73 350.52,265.62 351.97,264.83 353.42,264.4 354.87,264.55 356.59,265.7 358.32,265.29 360.04,265.18 361.59,266.86 363.15,265.57 364.7,265.33 366.25,265.59 367.98,265.98 369.7,267 371.43,266.63 373.15,267.51 374.88,268.62 376.6,269.32 377.98,270.38 379.37,270.56 380.75,271.8 382.3,273 383.85,274.08 385.4,273.02 386.96,272.42 388.34,272.21 389.72,273.5 391.1,273.46 392.48,274.24 393.86,274.46 395.24,274.91 396.62,275.05 398,275.11 399.38,276.56 400.76,277.26 402.14,277.49 403.52,278.01 405.07,278.39 406.63,280.29 408.18,279.75 409.73,279.25 411.28,278.98 412.84,280.08 414.39,281.21 415.94,282.36 417.49,283.67 419.05,284.84 420.6,285.73 422.15,286.29 424.22,285.67 425.78,284.63 427.33,283.4 428.71,283.06 430.09,282.05 431.47,282.15 432.85,281.64 434.23,281.23 435.61,281.12 437.16,281.84 438.72,282.77 440.1,283.38 441.48,284.02 442.86,284.22 444.41,285.48 445.96,285.26 448.03,287.95 450.1,286.5 451.48,285.83 452.86,287.65 454.24,287.95 455.8,287.55 457.35,287.33 459.42,290.02 460.97,290.01 462.53,287.95 464.08,288.89 465.63,288.99 467.18,287.93 468.74,288.36 470.29,289.37 471.84,290.02 473.4,288.96 474.95,288.36 476.5,289.12 478.05,288.99 480.12,287.33 482.19,293.13 484.27,290.02 485.82,289.03 487.37,288.99 489.44,293.13 491.51,300.37 493.58,297.89 495.13,297.32 496.69,296.85 498.24,298.24 499.79,299.75 501.35,301.57 502.9,303.48 504.55,308.03 507.04,302.44 508.59,299.59 510.14,297.27 512,296.85 512.01,295.2 513.39,295.06 514.76,296.78 516.14,297.27 517.52,297.85 518.9,297.51 520.28,297.68 522.35,301.41 524.42,307.2 525.98,305.92 527.53,305.55 529.08,305.12 530.63,304.51 532.7,300.99 534.77,307.62 536.84,303.89 538.92,302.44 540.99,308.65 542.54,308.6 544.09,308.03 545.64,309.82 547.2,311.76 549.27,314.24 551.34,309.69 553.41,315.9 554.96,315.69 556.51,315.49 557.89,314.74 559.27,312.22 560.65,311.35 562.21,312.85 563.76,314.87 565.14,314.49 566.52,315.52 567.9,316.31 569.45,318.67 571.01,321.7 572.39,319.47 573.77,317.8 575.15,316.31 576.7,318.99 578.25,320.04 579.81,320.47 581.36,321.08 583.43,319.63 584.77,320.3 586.12,321.08 588.6,326.25 589.98,328.28 591.37,328.3 592.75,329.36 594.3,327.23 595.85,326.67 597.4,326.95 598.96,326.87 600.34,327.28 601.72,329.27 603.1,329.36 604.65,327.45 606.2,326.67 607.76,327.23 609.31,328.32 610.86,326.57 612.41,326.25 613.97,326.5 615.52,326.67 617.07,325.8 618.63,325.84 620.18,324.15 621.73,322.53 623.28,323.18 624.84,324.18 626.39,325.46 627.94,327.29 629.49,326.37 631.05,324.6 632.6,324.29 634.15,323.15 635.71,322.66 637.26,322.11 639.33,325.22 640.88,327.92 642.43,331.43 644.51,327.91 646.06,327.94 647.61,328.94 649.16,329.27 650.72,329.36 652.27,331.47 653.82,331.43 655.37,331.22 656.93,331.43 659.41,329.36 660.76,331.08 662.1,333.5 664.17,337.64 666.24,334.53 667.8,332.67 669.35,331.43 670.9,330.42 672.46,330.39 674.01,330.99 675.56,332.46 677.11,333.2 678.67,334.12 680.74,332.46 682.29,336.01 683.84,338.26 685.4,336.91 686.95,335.57 688.29,333.27 689.64,331.43 692.12,328.32 693.68,329.15 695.23,331.43 696.78,331.01 698.34,330.39 699.89,330.38 701.44,330.39 702.82,329.15 704.2,328.52 705.58,328.32 707.13,326.75 708.69,325.22 710.24,325.36 711.79,324.6 713.35,323.84 714.9,322.53 716.45,323.65 718,324.6 719.56,323.21 721.11,322.11 722.55,321.74 724,321.08 724.01,321.08 725.39,320.04 726.76,319.98 728.14,317.97 729.52,317.12 730.9,317.12 732.28,316.94 734.01,316.82 735.73,315.44 737.46,314.87 738.84,316.89 740.22,317.61 741.6,319.01 743.32,318.86 745.05,318.43 746.77,318.39 748.15,318.18 749.53,318.78 750.92,319.63 752.3,320.9 753.68,320.47 755.06,320.46 756.78,319.55 758.51,318.54 760.23,316.94 761.61,316.98 762.99,316.98 764.37,316.31 765.75,316.75 767.13,317.32 768.51,317.97 770.07,317.79 771.62,316.57 773.17,315.51 774.72,315.49 776.45,315.87 778.18,316.21 779.9,316.94 781.63,316.52 783.35,315.23 785.08,314.87 786.46,315.56 787.84,317.06 789.22,318.39 790.94,319.98 792.67,320.16 794.39,321.08 795.95,321.51 797.5,321.81 799.05,322.3 800.6,322.53 802.16,323.36 803.71,323.98 805.26,323.03 806.82,324.18 808.37,325.42 809.92,325.42 811.47,325.9 813.03,326.67 814.48,328.08 815.93,327.25 817.37,328.54 818.82,328.43 820.27,328.32 821.83,327.03 823.38,326.67 824.76,326.27 826.14,325.76 827.52,324.8 828.9,325.09 830.28,324.45 831.66,325.84 833.39,324.79 835.11,323.96 836.84,323.15 838.56,322.17 840.29,323 842.01,321.7 843.57,320.24 845.12,319.01 846.67,318.83 848.22,319.01 849.78,318.35 851.33,317.97 852.71,316.38 854.09,315.14 855.47,314.24 857.2,313.11 858.92,312.04 860.65,310.72 862.03,309.32 863.41,308.34 864.79,307.2 866.34,305.85 867.89,305.99 869.45,304.69 871,304.31 872.55,303.94 874.1,302.97 875.66,302.68 877.21,302.44 878.93,301.71 880.66,300.24 882.39,299.96 884.11,301 885.84,299.8 887.56,299.75 889.29,299.24 891.01,298.45 892.74,298.3 894.29,298.3 895.84,296.85 897.4,298.2 898.95,298.44 900.5,298.41 902.05,299.75 903.43,298.7 904.81,298.37 906.19,297.27 907.75,297.45 909.3,297.56 910.85,297.97 912.41,298.92 913.96,298.16 915.51,298.1 917.06,297.39 918.62,297.27 920,295.9 921.38,295.76 922.76,293.13 924.14,293.58 925.52,291.97 926.9,292.09 928.28,292.45 929.66,292.54 931.04,292.71 932.59,292.86 934.14,293.13" fill="none" stroke="#080808" stroke-width="0.95" stroke-linejoin="round" />
<polyline points="88.5,348.18 90.32,348.7 92.14,348.59 93.52,349.04 94.9,349.6 96.28,350.25 97.83,350.24 99.39,350.45 100.94,349.8 102.49,349.21 104.05,350.22 105.6,350.45 107.15,350.07 108.7,349.21 110.08,348.67 111.46,348.8 112.84,348.8 114.4,348.51 115.95,348.94 117.5,348.71 119.06,348.59 120.44,349.06 121.82,348.99 123.2,349.21 125.27,350.66 126.82,349.67 128.37,349.83 129.93,349.86 131.48,349.63 133.03,350.11 134.58,350.45 136.31,350.61 138.03,350.06 139.76,350.45 142.24,350.87 143.59,349.86 144.94,348.8 146.39,348.34 147.83,348.09 149.28,348.16 150.73,347.91 152.18,347.55 153.73,347.18 155.29,346.83 156.84,346.5 158.39,347.14 159.84,347.01 161.29,347.56 162.74,347.25 164.19,346.63 165.64,347.35 167.37,347.37 169.09,348.03 170.82,348.18 172.2,348.78 173.58,348.73 174.96,348.6 176.34,348.65 177.72,348.38 179.1,348.8 180.48,348.59 181.86,348.56 183.24,348.36 184.62,348.54 186,348.33 187.38,348.38 188.76,348.62 190.14,349.09 191.52,349.02 192.9,349.06 194.28,349 195.66,349.21 197.04,348.79 198.42,349.25 199.8,349.48 201.18,349.05 202.56,349.76 203.94,349.42 205.49,349.32 207.05,349.53 208.6,349.32 210.15,349.42 212.22,351.28 213.78,350.39 215.33,350.25 217.4,351.28 218.95,351.49 220.51,350.45 222.06,350.73 223.61,351.7 225.68,350.66 227.23,351.76 228.79,352.32 230.17,351.87 231.55,351.85 232.93,351.49 234.31,351.21 235.69,351.29 237.07,351.66 238.45,351.93 239.83,351.06 241.21,351.28 242.59,351.28 243.97,351.57 245.35,351.09 246.73,351.49 248.11,351.05 249.49,351.28 250.87,351.46 252.25,351.41 253.63,351.28 256.12,352.32 258.19,352.94 259.84,351.28 261.22,351.65 262.6,351.39 263.98,350.92 265.36,351.48 266.74,350.95 268.12,351.28 269.6,351.51 271.08,351.73 272.56,351.46 274.04,351.12 275.52,351.64 277,351.33 278.48,351.28 279.96,350.91 281.43,351.18 282.91,351.71 284.39,351.19 285.87,351.32 287.35,351.18 288.83,351.28 290.38,351.4 291.93,352.52 293.28,352.34 294.62,352.56 295.97,352.48 297.31,352.33 298.66,351.71 300,352.32 300.01,352.32 301.39,352.58 302.77,352.33 304.14,352.31 305.52,352.29 306.9,351.67 308.28,351.7 309.83,351.57 311.39,351.89 312.94,352.35 314.49,351.9 316.05,351.6 317.6,352.25 319.15,352.31 320.7,352.73 322.26,352.95 323.81,353.27 325.36,352.8 326.92,352.94 328.47,352.41 330.02,352.64 331.57,352.39 333.13,352.32 334.51,352.1 335.89,353.07 337.27,352.88 338.65,353.49 340.03,353.13 341.41,353.77 342.96,353.89 344.51,352.92 346.07,353.46 347.62,352.94 349.17,352.29 350.72,353.14 352.28,352.51 353.83,352.52 355.21,352.13 356.59,352.59 357.97,352.73 359.35,352.42 360.73,351.61 362.11,351.49 363.66,351.55 365.22,351.98 366.77,352.06 368.32,352.32 369.88,351.19 371.43,351.77 372.98,351.82 374.53,351.49 375.91,351.61 377.29,351.86 378.67,351.39 380.06,352.39 381.44,351.9 382.82,351.7 384.37,352.2 385.92,352.85 387.47,353.22 389.03,353.35 390.58,353.64 392.13,353.68 393.69,354.44 395.24,354.39 396.62,354.55 398,353.89 399.38,354.16 400.76,354.67 402.14,354.59 403.52,354.59 405.07,354.89 406.63,355.2 408.18,355.26 409.73,355.42 411.11,356.14 412.49,355.73 413.87,356.03 415.25,356.49 416.63,356.85 418.01,356.87 419.39,357.52 420.77,358.15 422.15,358.11 423.53,357.76 424.91,358.05 426.29,357.49 427.85,358.36 429.4,358.94 431.12,358.49 432.85,358.62 434.58,358.53 435.96,358.67 437.34,357.8 438.72,357.08 440.27,356.78 441.82,356.05 443.37,356.39 444.93,356.46 446.31,356.25 447.69,356.48 449.07,357.15 450.45,356.68 451.83,356.55 453.21,356.46 454.59,356.35 455.97,356.45 457.35,356.91 458.73,357.01 460.11,358.22 461.49,357.49 463.56,358.11 465.63,356.46 467.01,356.27 468.39,356.13 469.77,356.25 471.33,356.9 472.88,356.89 474.43,356.81 475.98,357.49 477.36,358.43 478.74,358.5 480.12,359.15 481.68,358.7 483.23,359.14 484.78,359.14 486.34,358.94 487.89,358.79 489.44,359.05 490.99,359.03 492.55,358.73 493.93,358.95 495.31,359.08 496.69,360.18 498.24,359.67 499.79,360.56 501.35,361.17 502.9,361.01 504.28,361.66 505.66,362.12 507.04,362.05 508.69,362.74 510.35,362.33 512,362.46 512.01,362.46 513.56,362.99 515.11,362.42 516.66,363.29 518.21,363.29 519.76,363.51 521.32,363.47 522.87,363.47 524.42,363.7 525.8,363.71 527.18,364.44 528.56,364.74 529.94,365.95 531.32,366.29 532.7,367.22 534.08,367.18 535.46,366.61 536.84,366.6 538.22,366.75 539.61,366.44 540.99,366.81 542.71,367.75 544.44,368.4 546.16,369.29 547.61,369.51 549.06,369.36 550.51,369.31 551.96,369.69 553.41,369.92 554.96,370.43 556.51,370.8 558.07,370.44 559.62,370.74 561.17,371.66 562.72,372.32 564.28,372.88 565.83,373.43 567.21,373.04 568.59,373.67 569.97,373.64 571.35,373.83 572.73,374.96 574.11,375.09 575.49,375.12 576.87,374.86 578.25,374.47 579.63,374.09 581.01,375.42 582.39,375.82 583.77,375.6 585.15,376.66 586.53,376.75 587.91,376.77 589.29,376.69 590.67,376.53 592.06,376.44 593.44,376.62 594.82,376.75 596.29,377.85 597.77,377.16 599.25,377.34 600.73,377.26 602.21,377.45 603.69,377.65 605.17,377.99 606.72,377.36 608.27,377.53 609.83,376.82 611.38,376.54 612.76,376.63 614.14,375.85 615.52,376.3 616.9,375.84 618.28,375.88 619.66,375.51 621.39,375.47 623.11,375.24 624.84,375.51 626.56,375.45 628.29,374.55 630.01,374.26 631.39,374.43 632.77,374.41 634.15,374.88 635.53,375.5 636.91,375.87 638.29,376.54 639.85,377.45 641.4,378.3 642.95,378.82 644.51,379.85 646.58,381.51 648.13,380.83 649.68,381.12 651.23,381.01 652.79,380.47 654.34,381.15 655.89,381.06 657.45,382.05 659,382.34 660.55,383.23 662.1,383.98 663.66,384.8 665.21,385.44 666.93,386.04 668.66,386.89 670.39,387.51 671.94,389.14 673.49,390.2 674.87,389.85 676.25,389.36 677.63,389.58 679.18,389.71 680.74,389.95 682.29,389.5 683.84,390.2 685.4,390.36 686.95,391.11 688.5,391.25 690.05,391.65 691.78,392.23 693.5,392.38 695.23,393.31 696.68,393.5 698.13,393.67 699.58,393 701.03,392.76 702.48,392.9 704.03,392.76 705.58,393.58 707.13,393.55 708.69,393.72 710.24,393.75 711.79,394.61 713.35,394.73 714.9,394.76 716.28,395.42 717.66,395.2 719.04,396.21 720.69,395.49 722.35,395.02 724,394.14 724.01,394.14 725.39,394.53 726.76,395.94 728.14,396.42 729.69,396.85 731.25,396.73 732.8,396.2 734.35,396.42 735.73,396.69 737.11,397.66 738.49,397.87 739.87,398.16 741.25,398.23 742.63,397.87 744.36,398.92 746.08,399.22 747.81,399.94 749.19,399.33 750.57,398.41 751.95,398.49 753.68,398.86 755.4,399.45 757.13,398.9 758.58,399.18 760.02,399.59 761.47,400.34 762.92,400.67 764.37,400.97 766.1,400.01 767.82,399.65 769.55,399.31 770.93,398.99 772.31,399.92 773.69,399.1 775.07,399.57 776.45,399.89 777.83,399.31 779.21,400.09 780.59,400.16 781.97,399.94 783.7,400.08 785.42,398.88 787.15,398.9 788.6,399 790.05,399.1 791.49,399.43 792.94,400.52 794.39,399.94 795.77,399.54 797.15,400.31 798.53,399.88 799.91,400.75 801.29,400.84 802.67,400.56 804.23,400.71 805.78,401.8 807.33,401.51 808.89,401.8 810.75,403.54 812.61,404.49 814.37,403.86 816.13,403.04 817.86,403.08 819.58,403.34 821.31,403.66 823.03,404.59 824.76,405.78 826.48,406.56 827.86,406.91 829.24,407.89 830.63,407.43 832.01,407.66 833.39,407.9 834.77,408.42 836.15,408.19 837.53,407.99 838.91,408.13 840.29,408.7 841.67,408.44 843.05,408.42 844.6,408.06 846.15,407.8 847.71,408.32 849.26,408.95 850.81,409.23 852.36,409.46 853.81,409.77 855.26,409.46 856.71,409.63 858.16,409.56 859.61,409.87 861.34,410.33 863.06,410.59 864.79,411.32 866.24,411.75 867.69,412.35 869.13,412.87 870.58,413.4 872.03,414.01 873.36,414.07 874.7,414.82 876.03,414.53 877.36,414.54 878.69,415.11 880.02,414.93 881.35,415.46 882.73,415.42 884.11,416.04 885.49,415.79 886.87,415.6 888.25,416.93 889.63,417.12 891.36,418.05 893.08,417.86 894.81,418.98 896.19,419.27 897.57,420.26 898.95,420.64 900.33,419.22 901.71,418.72 903.09,418.16 904.81,418.48 906.54,419.48 908.27,420.23 909.71,419.8 911.16,420.83 912.61,420.68 914.06,420.98 915.51,421.05 916.96,420.87 918.41,420.25 919.86,420.76 921.31,420.32 922.76,420.64 924.14,420.64 925.52,420.38 926.9,420.54 928.28,420.58 929.66,420.87 931.04,420.64 932.59,420.66 934.14,420.23" fill="none" stroke="#080808" stroke-width="0.95" stroke-linejoin="round" />
<polyline points="88.5,503.3 214.5,503.3 214.8,488.7 235.2,488.7 235.5,473.9 322.6,473.9 322.9,459 338.5,459 338.8,444.3 346.4,444.3 346.7,429.5 935.5,429.5" fill="none" stroke="#1c1cff" stroke-width="1.0" stroke-linejoin="round" />
<text x="105.9" y="444.9" font-size="10.2" fill="#0000ff" textLength="159.5" lengthAdjust="spacingAndGlyphs">Tip increments are 0.01in. (0.254mm.)</text>
<path d="M340.35,586.3 L340.35,586.16 L350.7,585.33 L361.06,584.09 L371.41,584.3 L379.69,584.5 L383.83,584.71 L387.97,582.23 L392.11,581.6 L396.25,581.19 L402.46,580.78 L406.6,577.88 L410.75,574.36 L413.23,572.29 L415.92,575.39 L420.06,572.91 L424.2,575.39 L428.34,577.88 L431.45,577.46 L435.59,578.91 L439.73,579.95 L443.87,579.12 L450.08,579.53 L453.81,579.95 L456.29,574.36 L460.43,567.11 L463.54,568.15 L466.65,567.53 L468.72,570.84 L470.79,573.32 L472.86,566.08 L474.93,561.94 L477,555.31 L479.07,555.72 L481.14,553.03 L483.21,545.37 L484.87,552.62 L486.94,560.9 L489.01,554.69 L490.04,553.24 L491.49,557.38 L493.56,555.72 L495.63,548.48 L498.74,547.44 L501.84,547.44 L503.91,544.34 L505.57,548.48 L507.64,557.17 L509.71,553.65 L512.19,555.1 L514.27,554.28 L517.37,544.34 L519.44,538.13 L521.51,532.95 L523.58,540.2 L526.69,550.55 L529.17,555.72 L530,548.48 L530.83,548.48 L531.04,536.06 L532.07,520.53 L532.48,520.53 L533.11,538.13 L533.52,536.06 L534.14,540.2 L534.97,539.16 L535.18,536.06 L536.21,542.27 L536.21,544.34 L537.87,549.51 L538.07,552.62 L539.32,551.58 L539.52,551.58 L540.35,552.62 L541.39,535.64 L542.42,544.34 L544.49,540.2 L546.15,525.7 L547.39,512.25 L548.63,521.56 L549.67,523.63 L550.7,519.49 L551.74,536.06 L552.77,546.41 L554.84,548.48 L556.92,554.69 L558.99,560.9 L561.06,564.01 L563.13,558.83 L564.78,555.72 L566.23,560.9 L568.3,562.97 L570.37,561.94 L572.44,561.94 L574.51,566.7 L577.62,566.08 L580.72,563.39 L583.83,557.8 L586.94,550.55 L589.01,547.86 L592.11,548.48 L594.18,550.55 L596.25,549.51 L598.32,550.96 L600.39,539.78 L601.43,550.55 L602.88,559.87 L604.53,558.83 L606.19,557.8 L608.67,561.94 L611.78,568.15 L614.89,570.22 L619.03,571.67 L623.17,573.32 L627.31,573.74 L629.38,572.91 L631.45,570.22 L634.55,565.04 L636,556.76 L637.25,524.67 L638.7,525.7 L640.14,538.13 L641.8,543.3 L642.84,560.9 L643.46,547.44 L644.49,566.08 L646.98,566.08 L649.05,566.08 L651.12,567.11 L653.81,568.15 L654.84,548.89 L655.67,565.04 L656.71,571.25 L658.36,550.55 L660.43,550.13 L663.54,552.62 L666.65,554.69 L670.79,556.76 L674.93,558.42 L678.03,559.87 L681.14,561.94 L684.24,564.01 L686.31,564.63 L687.76,575.39 L689.01,565.04 L691.49,565.04 L693.56,565.46 L696.25,565.66 L697.7,577.46 L699.77,577.88 L701.84,580.57 L701.95,581.33 L704.88,581.33 L705.98,582.02 L707.81,582.6 L710.74,583.09 L712.7,582.11 L715.14,581.13 L717.58,581.62 L719.53,583.09 L723.44,584.55 L725.39,583.09 L726.37,582.3 L728.32,583.09 L731.25,584.26 L735.16,584.55 L739.06,584.55 L743.95,585.23 L748.83,585.82 L754.69,586.02 L760.55,586.21 L760.55,586.3 Z" fill="#262626" stroke="#262626" stroke-width="0.6"/>
<line x1="479.1" y1="509.6" x2="479.1" y2="511.6" stroke="#888" stroke-width="1"/>
<text x="479.1" y="518.8" text-anchor="middle" font-size="8.2" fill="#a020f0">1</text>
<line x1="509.5" y1="509.6" x2="509.5" y2="511.6" stroke="#888" stroke-width="1"/>
<text x="509.5" y="518.8" text-anchor="middle" font-size="8.2" fill="#a020f0">2</text>
<line x1="534.8" y1="509.6" x2="534.8" y2="511.6" stroke="#888" stroke-width="1"/>
<text x="534.8" y="518.8" text-anchor="middle" font-size="8.2" fill="#a020f0">3</text>
<line x1="557.5" y1="509.6" x2="557.5" y2="511.6" stroke="#888" stroke-width="1"/>
<text x="557.5" y="518.8" text-anchor="middle" font-size="8.2" fill="#a020f0">4</text>
<line x1="595.6" y1="509.6" x2="595.6" y2="511.6" stroke="#888" stroke-width="1"/>
<text x="595.6" y="518.8" text-anchor="middle" font-size="8.2" fill="#a020f0">5</text>
<line x1="639.3" y1="509.6" x2="639.3" y2="511.6" stroke="#888" stroke-width="1"/>
<text x="639.3" y="518.8" text-anchor="middle" font-size="8.2" fill="#a020f0">6</text>
<line x1="676.0" y1="509.6" x2="676.0" y2="511.6" stroke="#888" stroke-width="1"/>
<text x="676.0" y="518.8" text-anchor="middle" font-size="8.2" fill="#a020f0">7</text>
<text x="47.2" y="519" font-size="10" fill="#a020f0" textLength="85" lengthAdjust="spacingAndGlyphs">Sum of previous day</text>
<text x="40.8" y="529.6" font-size="10" fill="#a020f0" textLength="98.5" lengthAdjust="spacingAndGlyphs">&lt;--- 11.52 MJoules/m^2</text>
</g>
</svg>
</body></html>
